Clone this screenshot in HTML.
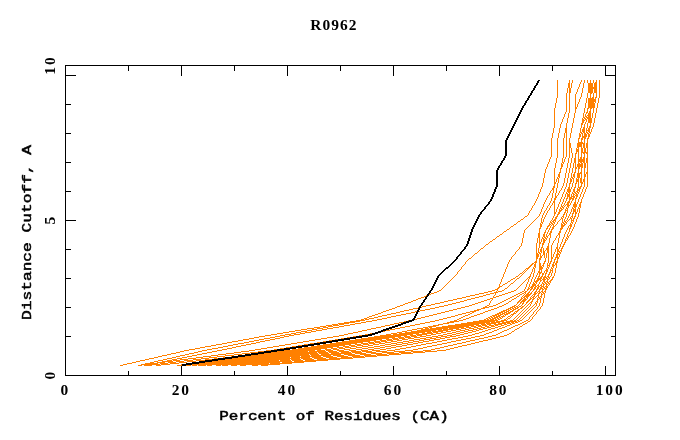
<!DOCTYPE html>
<html><head><meta charset="utf-8"><title>R0962</title>
<style>html,body{margin:0;padding:0;background:#fff}svg{display:block;will-change:transform}text{font-family:"Liberation Mono","DejaVu Sans Mono",monospace;font-weight:normal;font-size:13.7px;fill:#000;stroke:#000;stroke-width:0.5px}text.d{font-family:"Liberation Serif","DejaVu Serif",serif;font-weight:bold;font-size:13.8px;stroke:none}</style></head>
<body>
<svg width="680" height="440" viewBox="0 0 680 440">
<rect width="680" height="440" fill="#fff"/>
<g shape-rendering="crispEdges">
<path id="models" fill="#ff8000" d="M557 80h1v1h-1zM569 80h1v1h-1zM572 80h1v1h-1zM581 80h1v1h-1zM584 80h1v1h-1zM587 80h1v1h-1zM590 80h1v1h-1zM593 80h1v1h-1zM596 80h1v1h-1zM599 80h1v1h-1zM557 81h1v1h-1zM569 81h1v1h-1zM572 81h1v1h-1zM581 81h1v1h-1zM584 81h1v1h-1zM587 81h1v1h-1zM590 81h1v1h-1zM593 81h1v1h-1zM596 81h1v1h-1zM599 81h1v1h-1zM557 82h1v1h-1zM569 82h1v1h-1zM572 82h1v1h-1zM580 82h1v1h-1zM584 82h1v1h-1zM587 82h1v1h-1zM590 82h1v1h-1zM593 82h1v1h-1zM595 82h2v1h-2zM599 82h1v1h-1zM557 83h1v1h-1zM568 83h2v1h-2zM571 83h1v1h-1zM580 83h1v1h-1zM583 83h1v1h-1zM588 83h5v1h-5zM594 83h3v1h-3zM599 83h1v1h-1zM557 84h1v1h-1zM568 84h2v1h-2zM571 84h1v1h-1zM579 84h1v1h-1zM583 84h1v1h-1zM588 84h5v1h-5zM594 84h3v1h-3zM599 84h1v1h-1zM557 85h1v1h-1zM568 85h2v1h-2zM571 85h1v1h-1zM579 85h1v1h-1zM583 85h1v1h-1zM588 85h5v1h-5zM594 85h3v1h-3zM599 85h1v1h-1zM557 86h1v1h-1zM568 86h2v1h-2zM571 86h1v1h-1zM579 86h1v1h-1zM583 86h1v1h-1zM588 86h5v1h-5zM594 86h3v1h-3zM599 86h1v1h-1zM557 87h1v1h-1zM568 87h2v1h-2zM571 87h1v1h-1zM578 87h1v1h-1zM583 87h1v1h-1zM588 87h9v1h-9zM599 87h1v1h-1zM557 88h1v1h-1zM567 88h1v1h-1zM569 88h2v1h-2zM578 88h1v1h-1zM582 88h1v1h-1zM588 88h9v1h-9zM599 88h1v1h-1zM557 89h1v1h-1zM567 89h1v1h-1zM569 89h2v1h-2zM577 89h1v1h-1zM582 89h1v1h-1zM588 89h5v1h-5zM594 89h3v1h-3zM599 89h1v1h-1zM557 90h1v1h-1zM567 90h1v1h-1zM569 90h2v1h-2zM577 90h1v1h-1zM582 90h1v1h-1zM588 90h5v1h-5zM594 90h3v1h-3zM599 90h1v1h-1zM557 91h1v1h-1zM567 91h1v1h-1zM569 91h2v1h-2zM577 91h1v1h-1zM582 91h1v1h-1zM588 91h5v1h-5zM594 91h3v1h-3zM599 91h1v1h-1zM557 92h1v1h-1zM567 92h1v1h-1zM569 92h2v1h-2zM576 92h1v1h-1zM582 92h1v1h-1zM588 92h5v1h-5zM594 92h3v1h-3zM599 92h1v1h-1zM557 93h1v1h-1zM566 93h1v1h-1zM569 93h1v1h-1zM576 93h1v1h-1zM581 93h1v1h-1zM587 93h1v1h-1zM590 93h2v1h-2zM593 93h1v1h-1zM596 93h1v1h-1zM599 93h1v1h-1zM557 94h1v1h-1zM566 94h1v1h-1zM569 94h1v1h-1zM575 94h1v1h-1zM581 94h1v1h-1zM587 94h1v1h-1zM590 94h1v1h-1zM593 94h1v1h-1zM596 94h1v1h-1zM599 94h1v1h-1zM557 95h1v1h-1zM566 95h1v1h-1zM569 95h1v1h-1zM575 95h1v1h-1zM581 95h1v1h-1zM587 95h1v1h-1zM590 95h1v1h-1zM593 95h1v1h-1zM596 95h1v1h-1zM599 95h1v1h-1zM557 96h1v1h-1zM566 96h1v1h-1zM569 96h1v1h-1zM575 96h1v1h-1zM581 96h1v1h-1zM587 96h1v1h-1zM590 96h1v1h-1zM593 96h1v1h-1zM596 96h1v1h-1zM599 96h1v1h-1zM557 97h1v1h-1zM566 97h1v1h-1zM569 97h1v1h-1zM575 97h1v1h-1zM580 97h1v1h-1zM587 97h1v1h-1zM590 97h1v1h-1zM592 97h2v1h-2zM595 97h2v1h-2zM599 97h1v1h-1zM556 98h1v1h-1zM566 98h1v1h-1zM569 98h1v1h-1zM575 98h1v1h-1zM580 98h1v1h-1zM586 98h1v1h-1zM588 98h6v1h-6zM595 98h1v1h-1zM598 98h1v1h-1zM556 99h1v1h-1zM566 99h1v1h-1zM569 99h1v1h-1zM575 99h1v1h-1zM579 99h1v1h-1zM586 99h1v1h-1zM588 99h8v1h-8zM598 99h1v1h-1zM556 100h1v1h-1zM566 100h1v1h-1zM569 100h1v1h-1zM575 100h1v1h-1zM579 100h1v1h-1zM586 100h1v1h-1zM588 100h8v1h-8zM598 100h1v1h-1zM556 101h1v1h-1zM566 101h1v1h-1zM569 101h1v1h-1zM575 101h1v1h-1zM579 101h1v1h-1zM586 101h1v1h-1zM588 101h8v1h-8zM598 101h1v1h-1zM556 102h1v1h-1zM566 102h1v1h-1zM569 102h1v1h-1zM575 102h1v1h-1zM578 102h1v1h-1zM586 102h1v1h-1zM588 102h6v1h-6zM595 102h1v1h-1zM598 102h1v1h-1zM555 103h1v1h-1zM566 103h1v1h-1zM569 103h1v1h-1zM575 103h1v1h-1zM578 103h1v1h-1zM585 103h1v1h-1zM588 103h7v1h-7zM597 103h1v1h-1zM555 104h1v1h-1zM566 104h1v1h-1zM569 104h1v1h-1zM575 104h1v1h-1zM577 104h1v1h-1zM585 104h1v1h-1zM588 104h7v1h-7zM597 104h1v1h-1zM555 105h1v1h-1zM566 105h1v1h-1zM569 105h1v1h-1zM575 105h1v1h-1zM577 105h1v1h-1zM585 105h1v1h-1zM588 105h7v1h-7zM597 105h1v1h-1zM555 106h1v1h-1zM566 106h1v1h-1zM569 106h1v1h-1zM575 106h1v1h-1zM577 106h1v1h-1zM585 106h1v1h-1zM588 106h7v1h-7zM597 106h1v1h-1zM555 107h1v1h-1zM566 107h1v1h-1zM569 107h1v1h-1zM575 107h2v1h-2zM585 107h1v1h-1zM588 107h7v1h-7zM597 107h1v1h-1zM554 108h1v1h-1zM566 108h1v1h-1zM569 108h1v1h-1zM575 108h2v1h-2zM584 108h1v1h-1zM587 108h2v1h-2zM590 108h2v1h-2zM593 108h1v1h-1zM596 108h1v1h-1zM554 109h1v1h-1zM566 109h1v1h-1zM569 109h1v1h-1zM575 109h1v1h-1zM584 109h1v1h-1zM587 109h1v1h-1zM590 109h1v1h-1zM593 109h1v1h-1zM596 109h1v1h-1zM554 110h1v1h-1zM566 110h1v1h-1zM569 110h1v1h-1zM575 110h1v1h-1zM584 110h1v1h-1zM587 110h1v1h-1zM590 110h1v1h-1zM593 110h1v1h-1zM596 110h1v1h-1zM554 111h1v1h-1zM566 111h1v1h-1zM569 111h1v1h-1zM575 111h1v1h-1zM584 111h1v1h-1zM587 111h1v1h-1zM589 111h2v1h-2zM593 111h1v1h-1zM596 111h1v1h-1zM554 112h1v1h-1zM565 112h1v1h-1zM569 112h1v1h-1zM575 112h1v1h-1zM584 112h1v1h-1zM586 112h2v1h-2zM589 112h2v1h-2zM593 112h1v1h-1zM596 112h1v1h-1zM554 113h1v1h-1zM565 113h1v1h-1zM568 113h1v1h-1zM574 113h1v1h-1zM583 113h1v1h-1zM586 113h1v1h-1zM588 113h3v1h-3zM592 113h1v1h-1zM595 113h1v1h-1zM554 114h1v1h-1zM564 114h1v1h-1zM568 114h1v1h-1zM574 114h1v1h-1zM583 114h1v1h-1zM585 114h1v1h-1zM588 114h3v1h-3zM592 114h1v1h-1zM595 114h1v1h-1zM554 115h1v1h-1zM564 115h1v1h-1zM568 115h1v1h-1zM574 115h1v1h-1zM583 115h1v1h-1zM585 115h1v1h-1zM587 115h4v1h-4zM592 115h1v1h-1zM595 115h1v1h-1zM554 116h1v1h-1zM564 116h1v1h-1zM568 116h1v1h-1zM574 116h1v1h-1zM583 116h1v1h-1zM585 116h2v1h-2zM588 116h3v1h-3zM592 116h1v1h-1zM595 116h1v1h-1zM554 117h1v1h-1zM563 117h1v1h-1zM568 117h1v1h-1zM574 117h1v1h-1zM583 117h2v1h-2zM586 117h5v1h-5zM592 117h1v1h-1zM595 117h1v1h-1zM554 118h1v1h-1zM563 118h1v1h-1zM567 118h1v1h-1zM573 118h1v1h-1zM582 118h1v1h-1zM584 118h2v1h-2zM587 118h5v1h-5zM594 118h1v1h-1zM554 119h1v1h-1zM562 119h1v1h-1zM567 119h1v1h-1zM573 119h1v1h-1zM582 119h2v1h-2zM585 119h2v1h-2zM588 119h4v1h-4zM594 119h1v1h-1zM554 120h1v1h-1zM562 120h1v1h-1zM567 120h1v1h-1zM573 120h1v1h-1zM582 120h3v1h-3zM586 120h1v1h-1zM588 120h4v1h-4zM594 120h1v1h-1zM554 121h1v1h-1zM562 121h1v1h-1zM567 121h1v1h-1zM573 121h1v1h-1zM582 121h2v1h-2zM586 121h1v1h-1zM588 121h4v1h-4zM594 121h1v1h-1zM554 122h1v1h-1zM561 122h1v1h-1zM567 122h1v1h-1zM573 122h1v1h-1zM582 122h2v1h-2zM585 122h1v1h-1zM588 122h4v1h-4zM594 122h1v1h-1zM554 123h1v1h-1zM561 123h1v1h-1zM566 123h1v1h-1zM572 123h1v1h-1zM581 123h2v1h-2zM585 123h1v1h-1zM587 123h1v1h-1zM590 123h1v1h-1zM593 123h1v1h-1zM554 124h1v1h-1zM560 124h1v1h-1zM566 124h1v1h-1zM572 124h1v1h-1zM581 124h2v1h-2zM584 124h1v1h-1zM587 124h1v1h-1zM590 124h1v1h-1zM593 124h1v1h-1zM554 125h1v1h-1zM560 125h1v1h-1zM566 125h1v1h-1zM572 125h1v1h-1zM581 125h1v1h-1zM584 125h1v1h-1zM587 125h1v1h-1zM590 125h1v1h-1zM593 125h1v1h-1zM554 126h1v1h-1zM560 126h1v1h-1zM566 126h1v1h-1zM572 126h1v1h-1zM581 126h1v1h-1zM584 126h1v1h-1zM587 126h1v1h-1zM589 126h2v1h-2zM593 126h1v1h-1zM554 127h1v1h-1zM560 127h1v1h-1zM566 127h1v1h-1zM572 127h1v1h-1zM581 127h1v1h-1zM583 127h2v1h-2zM587 127h1v1h-1zM589 127h2v1h-2zM592 127h1v1h-1zM553 128h1v1h-1zM559 128h1v1h-1zM565 128h2v1h-2zM571 128h1v1h-1zM580 128h1v1h-1zM583 128h2v1h-2zM586 128h1v1h-1zM588 128h2v1h-2zM592 128h1v1h-1zM553 129h1v1h-1zM559 129h1v1h-1zM565 129h2v1h-2zM571 129h1v1h-1zM580 129h1v1h-1zM582 129h3v1h-3zM586 129h1v1h-1zM588 129h2v1h-2zM591 129h1v1h-1zM553 130h1v1h-1zM559 130h1v1h-1zM565 130h2v1h-2zM571 130h1v1h-1zM580 130h1v1h-1zM582 130h3v1h-3zM586 130h4v1h-4zM591 130h1v1h-1zM553 131h1v1h-1zM559 131h1v1h-1zM565 131h2v1h-2zM571 131h1v1h-1zM580 131h1v1h-1zM582 131h3v1h-3zM586 131h1v1h-1zM588 131h2v1h-2zM591 131h1v1h-1zM553 132h1v1h-1zM559 132h1v1h-1zM565 132h2v1h-2zM571 132h1v1h-1zM580 132h2v1h-2zM583 132h2v1h-2zM586 132h2v1h-2zM589 132h2v1h-2zM552 133h1v1h-1zM558 133h1v1h-1zM564 133h1v1h-1zM566 133h1v1h-1zM570 133h1v1h-1zM579 133h1v1h-1zM581 133h2v1h-2zM584 133h2v1h-2zM587 133h2v1h-2zM590 133h1v1h-1zM552 134h1v1h-1zM558 134h1v1h-1zM564 134h1v1h-1zM566 134h1v1h-1zM570 134h1v1h-1zM579 134h2v1h-2zM582 134h1v1h-1zM584 134h3v1h-3zM588 134h2v1h-2zM552 135h1v1h-1zM558 135h1v1h-1zM564 135h1v1h-1zM566 135h1v1h-1zM570 135h1v1h-1zM579 135h2v1h-2zM582 135h1v1h-1zM584 135h3v1h-3zM588 135h2v1h-2zM552 136h1v1h-1zM558 136h1v1h-1zM564 136h1v1h-1zM566 136h1v1h-1zM570 136h1v1h-1zM579 136h2v1h-2zM582 136h5v1h-5zM588 136h2v1h-2zM552 137h1v1h-1zM558 137h1v1h-1zM564 137h1v1h-1zM566 137h1v1h-1zM570 137h1v1h-1zM579 137h1v1h-1zM582 137h4v1h-4zM588 137h1v1h-1zM551 138h1v1h-1zM557 138h1v1h-1zM563 138h1v1h-1zM566 138h1v1h-1zM569 138h1v1h-1zM578 138h2v1h-2zM581 138h2v1h-2zM584 138h2v1h-2zM587 138h2v1h-2zM551 139h1v1h-1zM557 139h1v1h-1zM563 139h1v1h-1zM566 139h1v1h-1zM569 139h1v1h-1zM578 139h1v1h-1zM581 139h2v1h-2zM584 139h1v1h-1zM587 139h1v1h-1zM551 140h1v1h-1zM557 140h1v1h-1zM563 140h1v1h-1zM566 140h1v1h-1zM569 140h1v1h-1zM578 140h1v1h-1zM581 140h1v1h-1zM584 140h1v1h-1zM587 140h1v1h-1zM551 141h1v1h-1zM557 141h1v1h-1zM563 141h1v1h-1zM566 141h1v1h-1zM569 141h1v1h-1zM578 141h1v1h-1zM581 141h1v1h-1zM584 141h1v1h-1zM587 141h1v1h-1zM551 142h1v1h-1zM557 142h1v1h-1zM563 142h1v1h-1zM566 142h1v1h-1zM569 142h1v1h-1zM578 142h5v1h-5zM584 142h1v1h-1zM587 142h1v1h-1zM551 143h1v1h-1zM557 143h1v1h-1zM563 143h1v1h-1zM566 143h1v1h-1zM569 143h2v1h-2zM577 143h8v1h-8zM586 143h2v1h-2zM551 144h1v1h-1zM557 144h1v1h-1zM563 144h1v1h-1zM566 144h1v1h-1zM569 144h2v1h-2zM577 144h5v1h-5zM583 144h2v1h-2zM586 144h2v1h-2zM551 145h1v1h-1zM557 145h1v1h-1zM563 145h1v1h-1zM566 145h1v1h-1zM569 145h2v1h-2zM577 145h5v1h-5zM583 145h2v1h-2zM586 145h2v1h-2zM551 146h1v1h-1zM557 146h1v1h-1zM563 146h1v1h-1zM566 146h1v1h-1zM569 146h2v1h-2zM577 146h5v1h-5zM583 146h2v1h-2zM586 146h2v1h-2zM551 147h1v1h-1zM557 147h1v1h-1zM563 147h1v1h-1zM566 147h1v1h-1zM569 147h2v1h-2zM577 147h2v1h-2zM581 147h1v1h-1zM583 147h2v1h-2zM586 147h2v1h-2zM551 148h1v1h-1zM557 148h1v1h-1zM563 148h1v1h-1zM566 148h1v1h-1zM569 148h1v1h-1zM571 148h1v1h-1zM576 148h1v1h-1zM578 148h1v1h-1zM581 148h2v1h-2zM584 148h2v1h-2zM587 148h1v1h-1zM551 149h1v1h-1zM557 149h1v1h-1zM563 149h1v1h-1zM566 149h1v1h-1zM569 149h1v1h-1zM571 149h1v1h-1zM576 149h3v1h-3zM581 149h2v1h-2zM584 149h2v1h-2zM587 149h1v1h-1zM551 150h1v1h-1zM557 150h1v1h-1zM563 150h1v1h-1zM566 150h1v1h-1zM569 150h1v1h-1zM571 150h1v1h-1zM576 150h3v1h-3zM581 150h2v1h-2zM584 150h2v1h-2zM587 150h1v1h-1zM551 151h1v1h-1zM557 151h1v1h-1zM563 151h1v1h-1zM566 151h1v1h-1zM569 151h1v1h-1zM571 151h1v1h-1zM576 151h3v1h-3zM581 151h2v1h-2zM584 151h2v1h-2zM587 151h1v1h-1zM551 152h1v1h-1zM557 152h1v1h-1zM563 152h1v1h-1zM566 152h1v1h-1zM569 152h1v1h-1zM571 152h1v1h-1zM576 152h1v1h-1zM578 152h1v1h-1zM581 152h7v1h-7zM551 153h1v1h-1zM557 153h1v1h-1zM563 153h1v1h-1zM566 153h1v1h-1zM569 153h1v1h-1zM572 153h1v1h-1zM575 153h2v1h-2zM578 153h1v1h-1zM581 153h1v1h-1zM583 153h2v1h-2zM586 153h2v1h-2zM551 154h1v1h-1zM557 154h1v1h-1zM563 154h1v1h-1zM566 154h1v1h-1zM569 154h1v1h-1zM572 154h1v1h-1zM575 154h1v1h-1zM578 154h1v1h-1zM581 154h1v1h-1zM584 154h1v1h-1zM587 154h1v1h-1zM551 155h1v1h-1zM557 155h1v1h-1zM563 155h1v1h-1zM566 155h1v1h-1zM569 155h1v1h-1zM572 155h1v1h-1zM575 155h1v1h-1zM578 155h1v1h-1zM581 155h1v1h-1zM584 155h1v1h-1zM587 155h1v1h-1zM551 156h1v1h-1zM557 156h1v1h-1zM563 156h1v1h-1zM566 156h1v1h-1zM569 156h1v1h-1zM572 156h1v1h-1zM575 156h1v1h-1zM578 156h1v1h-1zM581 156h1v1h-1zM584 156h1v1h-1zM587 156h1v1h-1zM550 157h1v1h-1zM557 157h1v1h-1zM563 157h1v1h-1zM565 157h1v1h-1zM569 157h1v1h-1zM572 157h1v1h-1zM575 157h1v1h-1zM578 157h1v1h-1zM580 157h2v1h-2zM583 157h2v1h-2zM587 157h1v1h-1zM550 158h1v1h-1zM556 158h1v1h-1zM562 158h1v1h-1zM565 158h1v1h-1zM568 158h1v1h-1zM571 158h1v1h-1zM574 158h2v1h-2zM578 158h1v1h-1zM580 158h2v1h-2zM583 158h2v1h-2zM586 158h2v1h-2zM549 159h1v1h-1zM556 159h1v1h-1zM562 159h1v1h-1zM564 159h1v1h-1zM568 159h1v1h-1zM571 159h1v1h-1zM574 159h2v1h-2zM578 159h7v1h-7zM586 159h2v1h-2zM549 160h1v1h-1zM556 160h1v1h-1zM562 160h1v1h-1zM564 160h1v1h-1zM568 160h1v1h-1zM571 160h1v1h-1zM574 160h2v1h-2zM578 160h7v1h-7zM586 160h2v1h-2zM549 161h1v1h-1zM556 161h1v1h-1zM562 161h1v1h-1zM564 161h1v1h-1zM568 161h1v1h-1zM571 161h1v1h-1zM574 161h2v1h-2zM578 161h7v1h-7zM586 161h2v1h-2zM548 162h1v1h-1zM556 162h1v1h-1zM562 162h2v1h-2zM568 162h1v1h-1zM571 162h1v1h-1zM574 162h2v1h-2zM578 162h1v1h-1zM580 162h2v1h-2zM583 162h2v1h-2zM586 162h2v1h-2zM548 163h1v1h-1zM555 163h1v1h-1zM561 163h1v1h-1zM563 163h1v1h-1zM567 163h1v1h-1zM570 163h1v1h-1zM573 163h1v1h-1zM575 163h1v1h-1zM578 163h2v1h-2zM581 163h2v1h-2zM584 163h2v1h-2zM587 163h1v1h-1zM547 164h1v1h-1zM555 164h1v1h-1zM561 164h2v1h-2zM567 164h1v1h-1zM570 164h1v1h-1zM573 164h1v1h-1zM575 164h1v1h-1zM577 164h6v1h-6zM584 164h2v1h-2zM587 164h1v1h-1zM547 165h1v1h-1zM555 165h1v1h-1zM561 165h2v1h-2zM567 165h1v1h-1zM570 165h1v1h-1zM573 165h1v1h-1zM575 165h1v1h-1zM577 165h6v1h-6zM584 165h2v1h-2zM587 165h1v1h-1zM547 166h1v1h-1zM555 166h1v1h-1zM561 166h2v1h-2zM567 166h1v1h-1zM570 166h1v1h-1zM573 166h1v1h-1zM575 166h1v1h-1zM577 166h6v1h-6zM584 166h2v1h-2zM587 166h1v1h-1zM546 167h1v1h-1zM555 167h1v1h-1zM561 167h1v1h-1zM567 167h1v1h-1zM570 167h1v1h-1zM573 167h1v1h-1zM575 167h2v1h-2zM578 167h2v1h-2zM581 167h2v1h-2zM584 167h2v1h-2zM587 167h1v1h-1zM546 168h1v1h-1zM554 168h1v1h-1zM560 168h2v1h-2zM566 168h1v1h-1zM569 168h1v1h-1zM572 168h1v1h-1zM575 168h2v1h-2zM578 168h2v1h-2zM581 168h1v1h-1zM584 168h1v1h-1zM587 168h1v1h-1zM545 169h1v1h-1zM554 169h1v1h-1zM560 169h1v1h-1zM566 169h1v1h-1zM569 169h1v1h-1zM572 169h1v1h-1zM575 169h1v1h-1zM578 169h1v1h-1zM581 169h1v1h-1zM584 169h1v1h-1zM587 169h1v1h-1zM545 170h1v1h-1zM554 170h1v1h-1zM560 170h1v1h-1zM566 170h1v1h-1zM569 170h1v1h-1zM572 170h1v1h-1zM575 170h1v1h-1zM578 170h1v1h-1zM581 170h1v1h-1zM584 170h1v1h-1zM587 170h1v1h-1zM545 171h1v1h-1zM554 171h1v1h-1zM560 171h1v1h-1zM566 171h1v1h-1zM569 171h1v1h-1zM572 171h1v1h-1zM575 171h1v1h-1zM578 171h1v1h-1zM581 171h1v1h-1zM584 171h1v1h-1zM587 171h1v1h-1zM545 172h1v1h-1zM554 172h1v1h-1zM559 172h2v1h-2zM566 172h1v1h-1zM569 172h1v1h-1zM572 172h1v1h-1zM574 172h2v1h-2zM578 172h1v1h-1zM580 172h2v1h-2zM584 172h1v1h-1zM586 172h2v1h-2zM544 173h1v1h-1zM554 173h1v1h-1zM559 173h1v1h-1zM565 173h1v1h-1zM568 173h1v1h-1zM571 173h1v1h-1zM574 173h1v1h-1zM577 173h5v1h-5zM584 173h1v1h-1zM586 173h2v1h-2zM544 174h1v1h-1zM554 174h1v1h-1zM558 174h2v1h-2zM565 174h1v1h-1zM568 174h1v1h-1zM571 174h1v1h-1zM573 174h2v1h-2zM577 174h3v1h-3zM581 174h1v1h-1zM584 174h2v1h-2zM587 174h1v1h-1zM544 175h1v1h-1zM554 175h1v1h-1zM558 175h2v1h-2zM565 175h1v1h-1zM568 175h1v1h-1zM571 175h1v1h-1zM573 175h2v1h-2zM577 175h3v1h-3zM581 175h1v1h-1zM584 175h2v1h-2zM587 175h1v1h-1zM544 176h1v1h-1zM554 176h1v1h-1zM558 176h2v1h-2zM565 176h1v1h-1zM568 176h1v1h-1zM571 176h1v1h-1zM573 176h2v1h-2zM577 176h3v1h-3zM581 176h1v1h-1zM584 176h2v1h-2zM587 176h1v1h-1zM544 177h1v1h-1zM554 177h1v1h-1zM557 177h1v1h-1zM559 177h1v1h-1zM565 177h1v1h-1zM568 177h1v1h-1zM571 177h2v1h-2zM574 177h1v1h-1zM577 177h3v1h-3zM581 177h1v1h-1zM584 177h1v1h-1zM587 177h1v1h-1zM543 178h1v1h-1zM554 178h1v1h-1zM557 178h2v1h-2zM564 178h1v1h-1zM567 178h1v1h-1zM570 178h1v1h-1zM572 178h2v1h-2zM576 178h1v1h-1zM578 178h1v1h-1zM580 178h2v1h-2zM584 178h1v1h-1zM587 178h1v1h-1zM543 179h1v1h-1zM554 179h1v1h-1zM556 179h1v1h-1zM558 179h1v1h-1zM564 179h1v1h-1zM567 179h1v1h-1zM570 179h2v1h-2zM573 179h1v1h-1zM576 179h3v1h-3zM580 179h2v1h-2zM583 179h2v1h-2zM587 179h1v1h-1zM543 180h1v1h-1zM554 180h1v1h-1zM556 180h1v1h-1zM558 180h1v1h-1zM564 180h1v1h-1zM567 180h1v1h-1zM570 180h2v1h-2zM573 180h1v1h-1zM576 180h3v1h-3zM580 180h2v1h-2zM583 180h2v1h-2zM587 180h1v1h-1zM543 181h1v1h-1zM554 181h1v1h-1zM556 181h1v1h-1zM558 181h1v1h-1zM564 181h1v1h-1zM567 181h1v1h-1zM570 181h2v1h-2zM573 181h1v1h-1zM576 181h3v1h-3zM580 181h2v1h-2zM583 181h2v1h-2zM587 181h1v1h-1zM543 182h1v1h-1zM554 182h2v1h-2zM558 182h1v1h-1zM564 182h1v1h-1zM567 182h1v1h-1zM570 182h1v1h-1zM573 182h1v1h-1zM576 182h1v1h-1zM578 182h1v1h-1zM580 182h3v1h-3zM584 182h1v1h-1zM587 182h1v1h-1zM542 183h1v1h-1zM554 183h2v1h-2zM557 183h1v1h-1zM563 183h1v1h-1zM566 183h1v1h-1zM569 183h2v1h-2zM572 183h1v1h-1zM575 183h2v1h-2zM578 183h1v1h-1zM581 183h2v1h-2zM584 183h1v1h-1zM587 183h1v1h-1zM542 184h1v1h-1zM554 184h1v1h-1zM557 184h1v1h-1zM563 184h1v1h-1zM566 184h1v1h-1zM569 184h1v1h-1zM572 184h1v1h-1zM575 184h1v1h-1zM578 184h1v1h-1zM581 184h1v1h-1zM584 184h1v1h-1zM587 184h1v1h-1zM542 185h1v1h-1zM554 185h1v1h-1zM557 185h1v1h-1zM563 185h1v1h-1zM566 185h1v1h-1zM569 185h1v1h-1zM572 185h1v1h-1zM575 185h1v1h-1zM578 185h1v1h-1zM581 185h1v1h-1zM584 185h1v1h-1zM587 185h1v1h-1zM542 186h1v1h-1zM553 186h2v1h-2zM557 186h1v1h-1zM562 186h1v1h-1zM566 186h1v1h-1zM569 186h1v1h-1zM572 186h1v1h-1zM575 186h1v1h-1zM578 186h1v1h-1zM580 186h2v1h-2zM584 186h1v1h-1zM587 186h1v1h-1zM541 187h1v1h-1zM553 187h2v1h-2zM557 187h1v1h-1zM562 187h1v1h-1zM565 187h1v1h-1zM568 187h2v1h-2zM571 187h1v1h-1zM574 187h2v1h-2zM578 187h3v1h-3zM583 187h1v1h-1zM586 187h1v1h-1zM541 188h1v1h-1zM552 188h2v1h-2zM556 188h1v1h-1zM561 188h1v1h-1zM565 188h1v1h-1zM568 188h2v1h-2zM571 188h1v1h-1zM574 188h1v1h-1zM577 188h1v1h-1zM579 188h2v1h-2zM583 188h1v1h-1zM586 188h1v1h-1zM540 189h1v1h-1zM552 189h2v1h-2zM556 189h1v1h-1zM561 189h1v1h-1zM564 189h1v1h-1zM567 189h4v1h-4zM573 189h2v1h-2zM577 189h3v1h-3zM582 189h1v1h-1zM585 189h1v1h-1zM540 190h1v1h-1zM551 190h1v1h-1zM553 190h1v1h-1zM556 190h1v1h-1zM560 190h1v1h-1zM564 190h1v1h-1zM567 190h4v1h-4zM573 190h2v1h-2zM577 190h3v1h-3zM582 190h1v1h-1zM585 190h1v1h-1zM540 191h1v1h-1zM550 191h1v1h-1zM553 191h1v1h-1zM556 191h1v1h-1zM559 191h1v1h-1zM564 191h1v1h-1zM567 191h4v1h-4zM573 191h2v1h-2zM576 191h2v1h-2zM579 191h1v1h-1zM582 191h1v1h-1zM585 191h1v1h-1zM539 192h1v1h-1zM550 192h1v1h-1zM553 192h1v1h-1zM556 192h1v1h-1zM559 192h1v1h-1zM563 192h1v1h-1zM566 192h1v1h-1zM568 192h2v1h-2zM572 192h1v1h-1zM574 192h2v1h-2zM577 192h2v1h-2zM581 192h1v1h-1zM584 192h1v1h-1zM539 193h1v1h-1zM549 193h1v1h-1zM552 193h1v1h-1zM555 193h1v1h-1zM558 193h1v1h-1zM563 193h1v1h-1zM566 193h2v1h-2zM569 193h1v1h-1zM572 193h2v1h-2zM575 193h2v1h-2zM578 193h1v1h-1zM581 193h1v1h-1zM584 193h1v1h-1zM538 194h1v1h-1zM549 194h1v1h-1zM552 194h1v1h-1zM555 194h1v1h-1zM558 194h1v1h-1zM562 194h1v1h-1zM565 194h1v1h-1zM567 194h3v1h-3zM571 194h1v1h-1zM573 194h2v1h-2zM576 194h2v1h-2zM580 194h1v1h-1zM583 194h1v1h-1zM538 195h1v1h-1zM548 195h1v1h-1zM552 195h1v1h-1zM555 195h1v1h-1zM557 195h1v1h-1zM562 195h1v1h-1zM565 195h1v1h-1zM567 195h3v1h-3zM571 195h1v1h-1zM573 195h1v1h-1zM575 195h3v1h-3zM580 195h1v1h-1zM583 195h1v1h-1zM538 196h1v1h-1zM547 196h1v1h-1zM552 196h1v1h-1zM555 196h2v1h-2zM562 196h1v1h-1zM565 196h1v1h-1zM567 196h3v1h-3zM571 196h4v1h-4zM576 196h2v1h-2zM580 196h1v1h-1zM583 196h1v1h-1zM537 197h1v1h-1zM547 197h1v1h-1zM552 197h1v1h-1zM555 197h2v1h-2zM561 197h1v1h-1zM564 197h1v1h-1zM567 197h1v1h-1zM569 197h3v1h-3zM573 197h2v1h-2zM576 197h1v1h-1zM579 197h1v1h-1zM582 197h1v1h-1zM537 198h1v1h-1zM546 198h1v1h-1zM551 198h1v1h-1zM554 198h2v1h-2zM561 198h1v1h-1zM564 198h1v1h-1zM566 198h2v1h-2zM569 198h5v1h-5zM575 198h2v1h-2zM579 198h1v1h-1zM582 198h1v1h-1zM536 199h1v1h-1zM546 199h1v1h-1zM551 199h1v1h-1zM554 199h2v1h-2zM560 199h1v1h-1zM563 199h1v1h-1zM566 199h1v1h-1zM569 199h2v1h-2zM572 199h2v1h-2zM575 199h1v1h-1zM578 199h1v1h-1zM581 199h1v1h-1zM536 200h1v1h-1zM545 200h1v1h-1zM551 200h1v1h-1zM554 200h1v1h-1zM560 200h1v1h-1zM563 200h1v1h-1zM566 200h1v1h-1zM569 200h1v1h-1zM572 200h1v1h-1zM575 200h1v1h-1zM578 200h1v1h-1zM581 200h1v1h-1zM535 201h1v1h-1zM545 201h1v1h-1zM550 201h1v1h-1zM553 201h2v1h-2zM560 201h1v1h-1zM563 201h1v1h-1zM565 201h1v1h-1zM568 201h2v1h-2zM571 201h1v1h-1zM575 201h1v1h-1zM578 201h1v1h-1zM581 201h1v1h-1zM535 202h1v1h-1zM544 202h1v1h-1zM550 202h1v1h-1zM553 202h2v1h-2zM559 202h1v1h-1zM562 202h1v1h-1zM565 202h1v1h-1zM567 202h3v1h-3zM571 202h1v1h-1zM574 202h2v1h-2zM577 202h1v1h-1zM580 202h2v1h-2zM534 203h1v1h-1zM544 203h1v1h-1zM549 203h1v1h-1zM552 203h1v1h-1zM554 203h1v1h-1zM559 203h1v1h-1zM562 203h1v1h-1zM564 203h1v1h-1zM567 203h2v1h-2zM570 203h1v1h-1zM574 203h2v1h-2zM577 203h1v1h-1zM580 203h1v1h-1zM534 204h1v1h-1zM543 204h1v1h-1zM549 204h1v1h-1zM552 204h1v1h-1zM554 204h1v1h-1zM558 204h1v1h-1zM561 204h1v1h-1zM564 204h1v1h-1zM566 204h3v1h-3zM570 204h1v1h-1zM573 204h4v1h-4zM579 204h2v1h-2zM533 205h1v1h-1zM543 205h1v1h-1zM548 205h1v1h-1zM551 205h1v1h-1zM554 205h1v1h-1zM558 205h1v1h-1zM561 205h1v1h-1zM563 205h1v1h-1zM565 205h1v1h-1zM567 205h3v1h-3zM573 205h4v1h-4zM579 205h2v1h-2zM532 206h1v1h-1zM543 206h1v1h-1zM547 206h1v1h-1zM550 206h1v1h-1zM554 206h1v1h-1zM558 206h1v1h-1zM561 206h2v1h-2zM564 206h1v1h-1zM567 206h2v1h-2zM573 206h4v1h-4zM579 206h2v1h-2zM532 207h1v1h-1zM542 207h1v1h-1zM547 207h1v1h-1zM550 207h1v1h-1zM554 207h1v1h-1zM557 207h1v1h-1zM560 207h1v1h-1zM562 207h2v1h-2zM566 207h1v1h-1zM568 207h1v1h-1zM572 207h1v1h-1zM574 207h2v1h-2zM578 207h1v1h-1zM580 207h1v1h-1zM531 208h1v1h-1zM542 208h1v1h-1zM546 208h1v1h-1zM549 208h1v1h-1zM554 208h1v1h-1zM557 208h1v1h-1zM560 208h2v1h-2zM563 208h1v1h-1zM566 208h2v1h-2zM572 208h2v1h-2zM575 208h1v1h-1zM578 208h2v1h-2zM531 209h1v1h-1zM541 209h1v1h-1zM546 209h1v1h-1zM549 209h1v1h-1zM554 209h1v1h-1zM556 209h1v1h-1zM559 209h1v1h-1zM561 209h2v1h-2zM565 209h1v1h-1zM567 209h1v1h-1zM571 209h1v1h-1zM573 209h3v1h-3zM577 209h1v1h-1zM579 209h1v1h-1zM530 210h1v1h-1zM541 210h1v1h-1zM545 210h1v1h-1zM548 210h1v1h-1zM554 210h1v1h-1zM556 210h1v1h-1zM559 210h3v1h-3zM565 210h3v1h-3zM571 210h1v1h-1zM573 210h3v1h-3zM577 210h1v1h-1zM579 210h1v1h-1zM529 211h1v1h-1zM541 211h1v1h-1zM544 211h1v1h-1zM547 211h1v1h-1zM554 211h1v1h-1zM556 211h1v1h-1zM559 211h2v1h-2zM565 211h1v1h-1zM567 211h1v1h-1zM571 211h1v1h-1zM573 211h3v1h-3zM577 211h1v1h-1zM579 211h1v1h-1zM529 212h1v1h-1zM540 212h1v1h-1zM544 212h1v1h-1zM547 212h1v1h-1zM554 212h2v1h-2zM558 212h2v1h-2zM564 212h2v1h-2zM567 212h1v1h-1zM570 212h1v1h-1zM573 212h1v1h-1zM575 212h2v1h-2zM579 212h1v1h-1zM528 213h1v1h-1zM540 213h1v1h-1zM543 213h1v1h-1zM546 213h1v1h-1zM554 213h2v1h-2zM558 213h2v1h-2zM564 213h1v1h-1zM566 213h1v1h-1zM570 213h1v1h-1zM572 213h2v1h-2zM575 213h2v1h-2zM578 213h1v1h-1zM528 214h1v1h-1zM539 214h1v1h-1zM543 214h1v1h-1zM546 214h1v1h-1zM554 214h1v1h-1zM557 214h2v1h-2zM563 214h2v1h-2zM566 214h1v1h-1zM569 214h1v1h-1zM572 214h1v1h-1zM575 214h1v1h-1zM578 214h1v1h-1zM527 215h1v1h-1zM539 215h1v1h-1zM542 215h1v1h-1zM545 215h1v1h-1zM554 215h1v1h-1zM557 215h1v1h-1zM563 215h1v1h-1zM566 215h1v1h-1zM569 215h1v1h-1zM572 215h1v1h-1zM575 215h1v1h-1zM578 215h1v1h-1zM525 216h2v1h-2zM538 216h1v1h-1zM542 216h1v1h-1zM545 216h1v1h-1zM553 216h1v1h-1zM556 216h2v1h-2zM562 216h2v1h-2zM566 216h1v1h-1zM568 216h1v1h-1zM571 216h2v1h-2zM574 216h2v1h-2zM578 216h1v1h-1zM524 217h1v1h-1zM537 217h1v1h-1zM542 217h1v1h-1zM544 217h1v1h-1zM553 217h1v1h-1zM555 217h2v1h-2zM561 217h1v1h-1zM563 217h1v1h-1zM565 217h1v1h-1zM568 217h1v1h-1zM570 217h1v1h-1zM572 217h1v1h-1zM574 217h1v1h-1zM577 217h1v1h-1zM523 218h1v1h-1zM536 218h1v1h-1zM541 218h1v1h-1zM544 218h1v1h-1zM552 218h1v1h-1zM555 218h2v1h-2zM561 218h2v1h-2zM565 218h1v1h-1zM567 218h1v1h-1zM570 218h2v1h-2zM573 218h2v1h-2zM577 218h1v1h-1zM521 219h2v1h-2zM535 219h1v1h-1zM541 219h1v1h-1zM543 219h1v1h-1zM552 219h1v1h-1zM554 219h2v1h-2zM560 219h1v1h-1zM562 219h1v1h-1zM564 219h1v1h-1zM567 219h1v1h-1zM569 219h1v1h-1zM571 219h1v1h-1zM573 219h1v1h-1zM576 219h1v1h-1zM520 220h1v1h-1zM534 220h1v1h-1zM541 220h1v1h-1zM543 220h1v1h-1zM551 220h1v1h-1zM553 220h3v1h-3zM559 220h1v1h-1zM562 220h1v1h-1zM564 220h1v1h-1zM566 220h1v1h-1zM568 220h1v1h-1zM571 220h3v1h-3zM576 220h1v1h-1zM518 221h2v1h-2zM533 221h1v1h-1zM541 221h1v1h-1zM543 221h1v1h-1zM550 221h1v1h-1zM552 221h2v1h-2zM555 221h1v1h-1zM558 221h1v1h-1zM562 221h1v1h-1zM564 221h2v1h-2zM567 221h1v1h-1zM571 221h1v1h-1zM573 221h1v1h-1zM576 221h1v1h-1zM517 222h1v1h-1zM532 222h1v1h-1zM541 222h2v1h-2zM550 222h2v1h-2zM553 222h2v1h-2zM557 222h1v1h-1zM562 222h2v1h-2zM565 222h2v1h-2zM571 222h2v1h-2zM575 222h1v1h-1zM516 223h1v1h-1zM531 223h1v1h-1zM540 223h1v1h-1zM542 223h1v1h-1zM549 223h1v1h-1zM551 223h2v1h-2zM554 223h1v1h-1zM557 223h1v1h-1zM561 223h1v1h-1zM563 223h2v1h-2zM566 223h1v1h-1zM570 223h1v1h-1zM572 223h1v1h-1zM575 223h1v1h-1zM514 224h2v1h-2zM530 224h1v1h-1zM540 224h2v1h-2zM549 224h2v1h-2zM552 224h2v1h-2zM556 224h1v1h-1zM561 224h2v1h-2zM564 224h2v1h-2zM570 224h2v1h-2zM574 224h1v1h-1zM513 225h1v1h-1zM529 225h1v1h-1zM540 225h2v1h-2zM548 225h2v1h-2zM551 225h1v1h-1zM553 225h1v1h-1zM555 225h1v1h-1zM561 225h4v1h-4zM569 225h3v1h-3zM574 225h1v1h-1zM511 226h2v1h-2zM528 226h1v1h-1zM540 226h2v1h-2zM547 226h2v1h-2zM550 226h1v1h-1zM553 226h2v1h-2zM561 226h3v1h-3zM568 226h1v1h-1zM570 226h2v1h-2zM574 226h1v1h-1zM510 227h1v1h-1zM527 227h1v1h-1zM540 227h1v1h-1zM547 227h1v1h-1zM550 227h1v1h-1zM552 227h2v1h-2zM561 227h2v1h-2zM568 227h1v1h-1zM570 227h1v1h-1zM573 227h1v1h-1zM509 228h1v1h-1zM526 228h1v1h-1zM539 228h2v1h-2zM546 228h2v1h-2zM549 228h1v1h-1zM552 228h2v1h-2zM560 228h3v1h-3zM567 228h1v1h-1zM569 228h2v1h-2zM573 228h1v1h-1zM507 229h2v1h-2zM525 229h1v1h-1zM539 229h1v1h-1zM546 229h1v1h-1zM549 229h1v1h-1zM551 229h2v1h-2zM560 229h2v1h-2zM567 229h1v1h-1zM569 229h1v1h-1zM572 229h1v1h-1zM506 230h1v1h-1zM524 230h1v1h-1zM539 230h1v1h-1zM545 230h1v1h-1zM548 230h1v1h-1zM551 230h1v1h-1zM560 230h1v1h-1zM566 230h1v1h-1zM569 230h1v1h-1zM572 230h1v1h-1zM504 231h2v1h-2zM524 231h1v1h-1zM539 231h1v1h-1zM545 231h1v1h-1zM548 231h1v1h-1zM550 231h2v1h-2zM559 231h2v1h-2zM566 231h1v1h-1zM569 231h1v1h-1zM571 231h1v1h-1zM503 232h1v1h-1zM524 232h1v1h-1zM539 232h1v1h-1zM544 232h2v1h-2zM547 232h1v1h-1zM550 232h2v1h-2zM559 232h2v1h-2zM565 232h1v1h-1zM568 232h1v1h-1zM571 232h1v1h-1zM502 233h1v1h-1zM523 233h1v1h-1zM538 233h2v1h-2zM544 233h1v1h-1zM547 233h1v1h-1zM549 233h2v1h-2zM558 233h2v1h-2zM565 233h1v1h-1zM568 233h1v1h-1zM570 233h1v1h-1zM500 234h2v1h-2zM523 234h1v1h-1zM538 234h2v1h-2zM543 234h2v1h-2zM546 234h1v1h-1zM549 234h2v1h-2zM558 234h2v1h-2zM564 234h1v1h-1zM567 234h1v1h-1zM570 234h1v1h-1zM499 235h1v1h-1zM523 235h1v1h-1zM538 235h2v1h-2zM543 235h2v1h-2zM546 235h1v1h-1zM548 235h1v1h-1zM550 235h1v1h-1zM557 235h1v1h-1zM559 235h1v1h-1zM564 235h1v1h-1zM567 235h1v1h-1zM569 235h1v1h-1zM497 236h2v1h-2zM523 236h1v1h-1zM538 236h2v1h-2zM543 236h2v1h-2zM546 236h2v1h-2zM550 236h1v1h-1zM556 236h1v1h-1zM559 236h1v1h-1zM564 236h1v1h-1zM567 236h2v1h-2zM496 237h1v1h-1zM523 237h1v1h-1zM538 237h2v1h-2zM542 237h1v1h-1zM544 237h2v1h-2zM547 237h1v1h-1zM550 237h1v1h-1zM556 237h1v1h-1zM559 237h1v1h-1zM563 237h1v1h-1zM566 237h1v1h-1zM568 237h1v1h-1zM495 238h1v1h-1zM522 238h1v1h-1zM537 238h1v1h-1zM539 238h1v1h-1zM542 238h2v1h-2zM545 238h2v1h-2zM549 238h1v1h-1zM555 238h1v1h-1zM558 238h1v1h-1zM563 238h1v1h-1zM566 238h2v1h-2zM493 239h2v1h-2zM522 239h1v1h-1zM537 239h1v1h-1zM539 239h1v1h-1zM541 239h1v1h-1zM543 239h2v1h-2zM546 239h1v1h-1zM549 239h1v1h-1zM555 239h1v1h-1zM558 239h1v1h-1zM562 239h1v1h-1zM565 239h1v1h-1zM567 239h1v1h-1zM492 240h1v1h-1zM522 240h1v1h-1zM537 240h1v1h-1zM539 240h1v1h-1zM541 240h1v1h-1zM543 240h3v1h-3zM549 240h1v1h-1zM554 240h1v1h-1zM558 240h1v1h-1zM562 240h1v1h-1zM565 240h2v1h-2zM490 241h2v1h-2zM522 241h1v1h-1zM537 241h1v1h-1zM539 241h1v1h-1zM541 241h1v1h-1zM543 241h2v1h-2zM549 241h1v1h-1zM553 241h1v1h-1zM558 241h1v1h-1zM562 241h1v1h-1zM565 241h1v1h-1zM489 242h1v1h-1zM522 242h1v1h-1zM537 242h1v1h-1zM539 242h2v1h-2zM543 242h2v1h-2zM549 242h1v1h-1zM553 242h1v1h-1zM558 242h1v1h-1zM561 242h1v1h-1zM564 242h2v1h-2zM488 243h1v1h-1zM521 243h1v1h-1zM536 243h1v1h-1zM539 243h2v1h-2zM542 243h2v1h-2zM548 243h1v1h-1zM552 243h1v1h-1zM557 243h1v1h-1zM561 243h1v1h-1zM564 243h1v1h-1zM486 244h2v1h-2zM521 244h1v1h-1zM536 244h1v1h-1zM539 244h1v1h-1zM542 244h2v1h-2zM548 244h1v1h-1zM552 244h1v1h-1zM557 244h1v1h-1zM560 244h1v1h-1zM563 244h2v1h-2zM485 245h1v1h-1zM521 245h1v1h-1zM536 245h1v1h-1zM539 245h1v1h-1zM542 245h1v1h-1zM548 245h1v1h-1zM551 245h1v1h-1zM557 245h1v1h-1zM560 245h1v1h-1zM563 245h1v1h-1zM484 246h1v1h-1zM520 246h1v1h-1zM536 246h1v1h-1zM539 246h1v1h-1zM542 246h1v1h-1zM547 246h2v1h-2zM551 246h1v1h-1zM557 246h1v1h-1zM560 246h1v1h-1zM562 246h2v1h-2zM483 247h1v1h-1zM519 247h1v1h-1zM536 247h1v1h-1zM539 247h1v1h-1zM541 247h2v1h-2zM547 247h2v1h-2zM551 247h1v1h-1zM556 247h2v1h-2zM559 247h1v1h-1zM562 247h1v1h-1zM481 248h2v1h-2zM519 248h1v1h-1zM536 248h1v1h-1zM538 248h1v1h-1zM541 248h1v1h-1zM543 248h1v1h-1zM546 248h3v1h-3zM551 248h1v1h-1zM556 248h2v1h-2zM559 248h1v1h-1zM561 248h2v1h-2zM480 249h1v1h-1zM518 249h1v1h-1zM536 249h1v1h-1zM538 249h1v1h-1zM540 249h2v1h-2zM543 249h1v1h-1zM546 249h3v1h-3zM551 249h1v1h-1zM555 249h1v1h-1zM557 249h2v1h-2zM561 249h1v1h-1zM479 250h1v1h-1zM517 250h1v1h-1zM536 250h1v1h-1zM538 250h1v1h-1zM540 250h2v1h-2zM543 250h1v1h-1zM545 250h1v1h-1zM547 250h2v1h-2zM551 250h1v1h-1zM555 250h1v1h-1zM557 250h2v1h-2zM560 250h2v1h-2zM478 251h1v1h-1zM516 251h1v1h-1zM536 251h1v1h-1zM538 251h1v1h-1zM540 251h2v1h-2zM543 251h2v1h-2zM547 251h2v1h-2zM551 251h1v1h-1zM555 251h1v1h-1zM557 251h3v1h-3zM561 251h1v1h-1zM477 252h1v1h-1zM515 252h1v1h-1zM536 252h1v1h-1zM538 252h2v1h-2zM541 252h1v1h-1zM543 252h2v1h-2zM547 252h2v1h-2zM551 252h1v1h-1zM554 252h1v1h-1zM557 252h1v1h-1zM559 252h2v1h-2zM475 253h2v1h-2zM515 253h1v1h-1zM536 253h2v1h-2zM539 253h2v1h-2zM543 253h2v1h-2zM546 253h1v1h-1zM548 253h1v1h-1zM551 253h1v1h-1zM554 253h1v1h-1zM557 253h2v1h-2zM560 253h1v1h-1zM474 254h1v1h-1zM514 254h1v1h-1zM536 254h3v1h-3zM540 254h1v1h-1zM543 254h2v1h-2zM546 254h1v1h-1zM548 254h1v1h-1zM551 254h1v1h-1zM553 254h1v1h-1zM556 254h4v1h-4zM473 255h1v1h-1zM513 255h1v1h-1zM536 255h3v1h-3zM540 255h1v1h-1zM542 255h1v1h-1zM544 255h1v1h-1zM546 255h1v1h-1zM548 255h1v1h-1zM551 255h1v1h-1zM553 255h1v1h-1zM556 255h2v1h-2zM559 255h1v1h-1zM472 256h1v1h-1zM512 256h1v1h-1zM536 256h3v1h-3zM540 256h2v1h-2zM544 256h1v1h-1zM546 256h1v1h-1zM548 256h1v1h-1zM551 256h1v1h-1zM553 256h1v1h-1zM556 256h2v1h-2zM559 256h1v1h-1zM471 257h1v1h-1zM511 257h1v1h-1zM536 257h2v1h-2zM540 257h2v1h-2zM544 257h1v1h-1zM546 257h1v1h-1zM548 257h1v1h-1zM551 257h2v1h-2zM555 257h4v1h-4zM469 258h2v1h-2zM511 258h1v1h-1zM536 258h2v1h-2zM539 258h2v1h-2zM545 258h1v1h-1zM548 258h1v1h-1zM551 258h2v1h-2zM555 258h1v1h-1zM557 258h2v1h-2zM468 259h1v1h-1zM510 259h1v1h-1zM536 259h1v1h-1zM539 259h2v1h-2zM545 259h1v1h-1zM548 259h1v1h-1zM551 259h1v1h-1zM554 259h2v1h-2zM557 259h1v1h-1zM467 260h1v1h-1zM509 260h1v1h-1zM536 260h1v1h-1zM539 260h1v1h-1zM545 260h1v1h-1zM548 260h1v1h-1zM551 260h1v1h-1zM554 260h1v1h-1zM557 260h1v1h-1zM466 261h1v1h-1zM509 261h1v1h-1zM535 261h2v1h-2zM539 261h1v1h-1zM544 261h2v1h-2zM548 261h1v1h-1zM550 261h2v1h-2zM554 261h1v1h-1zM556 261h2v1h-2zM465 262h1v1h-1zM508 262h1v1h-1zM534 262h3v1h-3zM539 262h1v1h-1zM544 262h1v1h-1zM548 262h1v1h-1zM550 262h1v1h-1zM553 262h2v1h-2zM556 262h2v1h-2zM465 263h1v1h-1zM508 263h1v1h-1zM532 263h2v1h-2zM535 263h1v1h-1zM539 263h2v1h-2zM543 263h2v1h-2zM547 263h1v1h-1zM549 263h2v1h-2zM553 263h1v1h-1zM555 263h2v1h-2zM464 264h1v1h-1zM507 264h1v1h-1zM531 264h2v1h-2zM534 264h2v1h-2zM539 264h2v1h-2zM543 264h1v1h-1zM547 264h1v1h-1zM549 264h1v1h-1zM552 264h2v1h-2zM555 264h2v1h-2zM463 265h1v1h-1zM507 265h1v1h-1zM530 265h2v1h-2zM534 265h2v1h-2zM539 265h2v1h-2zM542 265h2v1h-2zM547 265h3v1h-3zM552 265h3v1h-3zM556 265h1v1h-1zM462 266h1v1h-1zM507 266h1v1h-1zM529 266h2v1h-2zM534 266h2v1h-2zM539 266h3v1h-3zM543 266h1v1h-1zM547 266h1v1h-1zM549 266h1v1h-1zM552 266h2v1h-2zM556 266h1v1h-1zM461 267h1v1h-1zM506 267h1v1h-1zM528 267h2v1h-2zM533 267h1v1h-1zM535 267h1v1h-1zM539 267h4v1h-4zM547 267h2v1h-2zM551 267h1v1h-1zM553 267h1v1h-1zM556 267h1v1h-1zM461 268h1v1h-1zM506 268h1v1h-1zM526 268h3v1h-3zM533 268h2v1h-2zM539 268h4v1h-4zM546 268h1v1h-1zM548 268h1v1h-1zM551 268h2v1h-2zM555 268h1v1h-1zM460 269h1v1h-1zM505 269h1v1h-1zM525 269h1v1h-1zM527 269h1v1h-1zM532 269h1v1h-1zM534 269h1v1h-1zM539 269h3v1h-3zM546 269h2v1h-2zM550 269h1v1h-1zM552 269h1v1h-1zM555 269h1v1h-1zM459 270h1v1h-1zM505 270h1v1h-1zM524 270h1v1h-1zM526 270h1v1h-1zM532 270h1v1h-1zM534 270h1v1h-1zM539 270h1v1h-1zM541 270h1v1h-1zM545 270h3v1h-3zM550 270h3v1h-3zM555 270h1v1h-1zM458 271h1v1h-1zM505 271h1v1h-1zM523 271h1v1h-1zM525 271h1v1h-1zM532 271h1v1h-1zM534 271h1v1h-1zM538 271h2v1h-2zM541 271h1v1h-1zM544 271h1v1h-1zM546 271h2v1h-2zM550 271h1v1h-1zM552 271h1v1h-1zM555 271h1v1h-1zM457 272h1v1h-1zM504 272h1v1h-1zM522 272h1v1h-1zM524 272h1v1h-1zM531 272h1v1h-1zM534 272h1v1h-1zM538 272h4v1h-4zM544 272h1v1h-1zM546 272h1v1h-1zM549 272h2v1h-2zM552 272h1v1h-1zM555 272h1v1h-1zM457 273h1v1h-1zM504 273h1v1h-1zM520 273h2v1h-2zM523 273h1v1h-1zM531 273h1v1h-1zM533 273h1v1h-1zM537 273h1v1h-1zM539 273h2v1h-2zM542 273h2v1h-2zM545 273h2v1h-2zM549 273h1v1h-1zM551 273h1v1h-1zM554 273h1v1h-1zM456 274h1v1h-1zM503 274h1v1h-1zM519 274h1v1h-1zM522 274h1v1h-1zM530 274h1v1h-1zM533 274h1v1h-1zM537 274h1v1h-1zM539 274h1v1h-1zM542 274h2v1h-2zM545 274h1v1h-1zM548 274h2v1h-2zM551 274h1v1h-1zM554 274h1v1h-1zM455 275h1v1h-1zM503 275h1v1h-1zM518 275h1v1h-1zM521 275h1v1h-1zM530 275h1v1h-1zM533 275h1v1h-1zM536 275h1v1h-1zM539 275h1v1h-1zM542 275h1v1h-1zM545 275h1v1h-1zM548 275h1v1h-1zM551 275h1v1h-1zM554 275h1v1h-1zM454 276h1v1h-1zM503 276h1v1h-1zM516 276h2v1h-2zM520 276h1v1h-1zM529 276h2v1h-2zM533 276h1v1h-1zM536 276h1v1h-1zM538 276h2v1h-2zM541 276h2v1h-2zM544 276h2v1h-2zM547 276h2v1h-2zM550 276h1v1h-1zM553 276h1v1h-1zM453 277h1v1h-1zM502 277h1v1h-1zM515 277h1v1h-1zM519 277h1v1h-1zM528 277h2v1h-2zM532 277h1v1h-1zM535 277h1v1h-1zM538 277h1v1h-1zM540 277h2v1h-2zM543 277h4v1h-4zM548 277h2v1h-2zM552 277h2v1h-2zM452 278h1v1h-1zM502 278h1v1h-1zM513 278h2v1h-2zM517 278h2v1h-2zM527 278h1v1h-1zM529 278h1v1h-1zM532 278h1v1h-1zM535 278h1v1h-1zM537 278h5v1h-5zM543 278h2v1h-2zM546 278h2v1h-2zM549 278h1v1h-1zM552 278h1v1h-1zM451 279h1v1h-1zM501 279h1v1h-1zM511 279h2v1h-2zM516 279h1v1h-1zM526 279h1v1h-1zM528 279h1v1h-1zM531 279h1v1h-1zM534 279h1v1h-1zM537 279h4v1h-4zM542 279h4v1h-4zM547 279h2v1h-2zM551 279h2v1h-2zM450 280h1v1h-1zM501 280h1v1h-1zM510 280h1v1h-1zM515 280h1v1h-1zM525 280h1v1h-1zM528 280h1v1h-1zM531 280h1v1h-1zM534 280h1v1h-1zM536 280h3v1h-3zM540 280h2v1h-2zM543 280h2v1h-2zM547 280h1v1h-1zM550 280h2v1h-2zM449 281h1v1h-1zM501 281h1v1h-1zM508 281h2v1h-2zM514 281h1v1h-1zM524 281h1v1h-1zM528 281h1v1h-1zM531 281h1v1h-1zM534 281h4v1h-4zM540 281h1v1h-1zM543 281h2v1h-2zM546 281h2v1h-2zM549 281h2v1h-2zM448 282h1v1h-1zM500 282h1v1h-1zM507 282h1v1h-1zM513 282h1v1h-1zM523 282h1v1h-1zM527 282h1v1h-1zM530 282h1v1h-1zM533 282h1v1h-1zM535 282h2v1h-2zM539 282h1v1h-1zM542 282h1v1h-1zM544 282h2v1h-2zM547 282h2v1h-2zM550 282h1v1h-1zM447 283h1v1h-1zM500 283h1v1h-1zM505 283h2v1h-2zM511 283h2v1h-2zM522 283h1v1h-1zM527 283h1v1h-1zM530 283h1v1h-1zM533 283h2v1h-2zM536 283h1v1h-1zM539 283h1v1h-1zM542 283h2v1h-2zM545 283h2v1h-2zM548 283h2v1h-2zM446 284h1v1h-1zM499 284h1v1h-1zM503 284h2v1h-2zM510 284h1v1h-1zM521 284h1v1h-1zM526 284h1v1h-1zM529 284h1v1h-1zM532 284h4v1h-4zM538 284h1v1h-1zM541 284h1v1h-1zM543 284h2v1h-2zM546 284h2v1h-2zM549 284h1v1h-1zM445 285h1v1h-1zM499 285h1v1h-1zM502 285h1v1h-1zM509 285h1v1h-1zM520 285h1v1h-1zM526 285h1v1h-1zM529 285h1v1h-1zM532 285h4v1h-4zM537 285h2v1h-2zM540 285h2v1h-2zM543 285h1v1h-1zM546 285h1v1h-1zM548 285h1v1h-1zM444 286h1v1h-1zM499 286h3v1h-3zM508 286h1v1h-1zM519 286h1v1h-1zM526 286h1v1h-1zM529 286h1v1h-1zM531 286h3v1h-3zM535 286h2v1h-2zM538 286h2v1h-2zM541 286h3v1h-3zM545 286h3v1h-3zM443 287h1v1h-1zM498 287h2v1h-2zM507 287h1v1h-1zM518 287h1v1h-1zM525 287h1v1h-1zM528 287h1v1h-1zM530 287h3v1h-3zM534 287h2v1h-2zM537 287h2v1h-2zM540 287h2v1h-2zM543 287h2v1h-2zM546 287h2v1h-2zM442 288h1v1h-1zM497 288h2v1h-2zM505 288h2v1h-2zM517 288h1v1h-1zM525 288h1v1h-1zM528 288h2v1h-2zM531 288h2v1h-2zM534 288h2v1h-2zM537 288h2v1h-2zM540 288h3v1h-3zM544 288h3v1h-3zM441 289h1v1h-1zM495 289h3v1h-3zM504 289h1v1h-1zM516 289h1v1h-1zM524 289h1v1h-1zM527 289h2v1h-2zM530 289h2v1h-2zM533 289h2v1h-2zM536 289h2v1h-2zM539 289h2v1h-2zM542 289h2v1h-2zM545 289h2v1h-2zM439 290h2v1h-2zM492 290h3v1h-3zM497 290h1v1h-1zM502 290h2v1h-2zM514 290h2v1h-2zM524 290h1v1h-1zM527 290h1v1h-1zM530 290h1v1h-1zM533 290h1v1h-1zM536 290h1v1h-1zM539 290h1v1h-1zM542 290h1v1h-1zM545 290h1v1h-1zM437 291h2v1h-2zM488 291h4v1h-4zM496 291h1v1h-1zM498 291h4v1h-4zM511 291h3v1h-3zM522 291h2v1h-2zM525 291h2v1h-2zM529 291h1v1h-1zM532 291h1v1h-1zM535 291h2v1h-2zM538 291h2v1h-2zM541 291h2v1h-2zM544 291h2v1h-2zM434 292h3v1h-3zM484 292h4v1h-4zM494 292h4v1h-4zM508 292h3v1h-3zM520 292h2v1h-2zM524 292h2v1h-2zM528 292h2v1h-2zM531 292h1v1h-1zM534 292h2v1h-2zM537 292h1v1h-1zM539 292h2v1h-2zM542 292h2v1h-2zM545 292h1v1h-1zM431 293h3v1h-3zM479 293h5v1h-5zM490 293h4v1h-4zM495 293h1v1h-1zM505 293h3v1h-3zM518 293h2v1h-2zM522 293h2v1h-2zM525 293h1v1h-1zM527 293h2v1h-2zM530 293h2v1h-2zM534 293h3v1h-3zM538 293h2v1h-2zM541 293h1v1h-1zM543 293h2v1h-2zM429 294h2v1h-2zM475 294h4v1h-4zM486 294h4v1h-4zM495 294h1v1h-1zM502 294h3v1h-3zM516 294h2v1h-2zM520 294h2v1h-2zM524 294h1v1h-1zM526 294h5v1h-5zM533 294h3v1h-3zM538 294h1v1h-1zM541 294h2v1h-2zM544 294h1v1h-1zM426 295h3v1h-3zM470 295h5v1h-5zM483 295h3v1h-3zM494 295h1v1h-1zM499 295h3v1h-3zM514 295h2v1h-2zM519 295h1v1h-1zM523 295h1v1h-1zM525 295h5v1h-5zM532 295h1v1h-1zM534 295h1v1h-1zM537 295h2v1h-2zM541 295h1v1h-1zM544 295h1v1h-1zM424 296h2v1h-2zM466 296h4v1h-4zM479 296h4v1h-4zM493 296h1v1h-1zM496 296h3v1h-3zM512 296h2v1h-2zM517 296h2v1h-2zM522 296h1v1h-1zM524 296h5v1h-5zM531 296h1v1h-1zM533 296h2v1h-2zM536 296h1v1h-1zM538 296h1v1h-1zM540 296h2v1h-2zM544 296h1v1h-1zM421 297h3v1h-3zM462 297h4v1h-4zM475 297h4v1h-4zM493 297h3v1h-3zM510 297h2v1h-2zM516 297h1v1h-1zM521 297h1v1h-1zM523 297h2v1h-2zM526 297h2v1h-2zM530 297h1v1h-1zM532 297h2v1h-2zM535 297h1v1h-1zM538 297h2v1h-2zM541 297h1v1h-1zM544 297h1v1h-1zM418 298h3v1h-3zM457 298h5v1h-5zM471 298h4v1h-4zM490 298h3v1h-3zM508 298h2v1h-2zM514 298h2v1h-2zM521 298h2v1h-2zM524 298h2v1h-2zM527 298h1v1h-1zM530 298h2v1h-2zM533 298h2v1h-2zM537 298h1v1h-1zM539 298h2v1h-2zM543 298h1v1h-1zM416 299h2v1h-2zM453 299h4v1h-4zM467 299h4v1h-4zM487 299h3v1h-3zM492 299h1v1h-1zM506 299h2v1h-2zM512 299h2v1h-2zM520 299h2v1h-2zM523 299h4v1h-4zM529 299h2v1h-2zM532 299h2v1h-2zM537 299h2v1h-2zM540 299h1v1h-1zM543 299h1v1h-1zM413 300h3v1h-3zM448 300h5v1h-5zM464 300h3v1h-3zM484 300h3v1h-3zM491 300h1v1h-1zM504 300h2v1h-2zM511 300h1v1h-1zM519 300h2v1h-2zM522 300h4v1h-4zM528 300h2v1h-2zM532 300h1v1h-1zM537 300h1v1h-1zM540 300h1v1h-1zM543 300h1v1h-1zM411 301h2v1h-2zM444 301h4v1h-4zM460 301h4v1h-4zM481 301h3v1h-3zM490 301h1v1h-1zM502 301h2v1h-2zM509 301h2v1h-2zM518 301h2v1h-2zM521 301h4v1h-4zM527 301h2v1h-2zM531 301h2v1h-2zM536 301h2v1h-2zM540 301h1v1h-1zM543 301h1v1h-1zM408 302h3v1h-3zM440 302h4v1h-4zM456 302h4v1h-4zM478 302h3v1h-3zM490 302h1v1h-1zM500 302h2v1h-2zM508 302h1v1h-1zM517 302h2v1h-2zM520 302h2v1h-2zM523 302h1v1h-1zM526 302h2v1h-2zM530 302h2v1h-2zM535 302h1v1h-1zM537 302h1v1h-1zM540 302h1v1h-1zM543 302h1v1h-1zM405 303h3v1h-3zM435 303h5v1h-5zM452 303h4v1h-4zM475 303h3v1h-3zM489 303h1v1h-1zM498 303h2v1h-2zM506 303h2v1h-2zM517 303h1v1h-1zM520 303h1v1h-1zM522 303h2v1h-2zM526 303h1v1h-1zM529 303h1v1h-1zM531 303h1v1h-1zM535 303h2v1h-2zM539 303h1v1h-1zM542 303h1v1h-1zM403 304h2v1h-2zM431 304h4v1h-4zM448 304h4v1h-4zM472 304h3v1h-3zM489 304h1v1h-1zM496 304h2v1h-2zM504 304h2v1h-2zM516 304h1v1h-1zM519 304h1v1h-1zM522 304h1v1h-1zM525 304h1v1h-1zM528 304h1v1h-1zM530 304h1v1h-1zM534 304h1v1h-1zM536 304h1v1h-1zM539 304h1v1h-1zM542 304h1v1h-1zM400 305h3v1h-3zM426 305h5v1h-5zM444 305h4v1h-4zM469 305h3v1h-3zM487 305h2v1h-2zM493 305h3v1h-3zM502 305h2v1h-2zM514 305h2v1h-2zM518 305h1v1h-1zM521 305h1v1h-1zM524 305h1v1h-1zM527 305h1v1h-1zM530 305h1v1h-1zM533 305h1v1h-1zM536 305h1v1h-1zM539 305h1v1h-1zM542 305h1v1h-1zM397 306h3v1h-3zM422 306h4v1h-4zM439 306h5v1h-5zM465 306h4v1h-4zM485 306h2v1h-2zM489 306h4v1h-4zM499 306h3v1h-3zM512 306h3v1h-3zM516 306h2v1h-2zM519 306h2v1h-2zM522 306h2v1h-2zM526 306h1v1h-1zM529 306h1v1h-1zM532 306h1v1h-1zM535 306h1v1h-1zM538 306h1v1h-1zM541 306h1v1h-1zM395 307h2v1h-2zM418 307h4v1h-4zM435 307h4v1h-4zM461 307h4v1h-4zM483 307h6v1h-6zM497 307h2v1h-2zM510 307h3v1h-3zM514 307h2v1h-2zM517 307h2v1h-2zM521 307h2v1h-2zM525 307h1v1h-1zM528 307h1v1h-1zM531 307h1v1h-1zM534 307h1v1h-1zM537 307h1v1h-1zM540 307h1v1h-1zM392 308h3v1h-3zM413 308h5v1h-5zM430 308h5v1h-5zM457 308h4v1h-4zM481 308h4v1h-4zM494 308h3v1h-3zM508 308h3v1h-3zM512 308h2v1h-2zM515 308h3v1h-3zM520 308h2v1h-2zM524 308h1v1h-1zM527 308h1v1h-1zM530 308h1v1h-1zM533 308h1v1h-1zM537 308h1v1h-1zM540 308h1v1h-1zM389 309h3v1h-3zM409 309h4v1h-4zM425 309h5v1h-5zM453 309h4v1h-4zM477 309h4v1h-4zM491 309h3v1h-3zM506 309h3v1h-3zM510 309h2v1h-2zM513 309h3v1h-3zM518 309h2v1h-2zM523 309h1v1h-1zM526 309h1v1h-1zM529 309h1v1h-1zM532 309h1v1h-1zM536 309h1v1h-1zM539 309h1v1h-1zM386 310h3v1h-3zM404 310h5v1h-5zM420 310h5v1h-5zM449 310h4v1h-4zM474 310h5v1h-5zM488 310h3v1h-3zM503 310h4v1h-4zM508 310h2v1h-2zM512 310h2v1h-2zM517 310h2v1h-2zM522 310h1v1h-1zM525 310h1v1h-1zM528 310h1v1h-1zM531 310h1v1h-1zM535 310h1v1h-1zM538 310h1v1h-1zM383 311h3v1h-3zM400 311h4v1h-4zM415 311h5v1h-5zM445 311h4v1h-4zM470 311h6v1h-6zM485 311h3v1h-3zM501 311h4v1h-4zM506 311h3v1h-3zM510 311h3v1h-3zM515 311h3v1h-3zM521 311h1v1h-1zM524 311h1v1h-1zM527 311h1v1h-1zM530 311h1v1h-1zM534 311h1v1h-1zM537 311h1v1h-1zM381 312h2v1h-2zM396 312h4v1h-4zM411 312h4v1h-4zM441 312h4v1h-4zM466 312h4v1h-4zM472 312h2v1h-2zM483 312h2v1h-2zM499 312h4v1h-4zM504 312h3v1h-3zM508 312h3v1h-3zM514 312h1v1h-1zM516 312h1v1h-1zM520 312h1v1h-1zM523 312h1v1h-1zM526 312h1v1h-1zM529 312h1v1h-1zM533 312h1v1h-1zM536 312h1v1h-1zM378 313h3v1h-3zM391 313h5v1h-5zM406 313h5v1h-5zM437 313h4v1h-4zM462 313h4v1h-4zM470 313h2v1h-2zM480 313h3v1h-3zM497 313h4v1h-4zM502 313h3v1h-3zM506 313h4v1h-4zM513 313h3v1h-3zM519 313h1v1h-1zM522 313h1v1h-1zM525 313h1v1h-1zM528 313h1v1h-1zM533 313h1v1h-1zM536 313h1v1h-1zM375 314h3v1h-3zM387 314h4v1h-4zM401 314h5v1h-5zM433 314h4v1h-4zM458 314h4v1h-4zM468 314h2v1h-2zM477 314h3v1h-3zM495 314h4v1h-4zM500 314h3v1h-3zM504 314h4v1h-4zM511 314h3v1h-3zM518 314h1v1h-1zM521 314h1v1h-1zM524 314h1v1h-1zM527 314h1v1h-1zM532 314h1v1h-1zM535 314h1v1h-1zM372 315h3v1h-3zM382 315h5v1h-5zM396 315h5v1h-5zM429 315h4v1h-4zM455 315h3v1h-3zM465 315h3v1h-3zM474 315h3v1h-3zM492 315h5v1h-5zM498 315h3v1h-3zM503 315h1v1h-1zM505 315h1v1h-1zM510 315h1v1h-1zM512 315h1v1h-1zM517 315h1v1h-1zM520 315h1v1h-1zM523 315h1v1h-1zM526 315h1v1h-1zM531 315h1v1h-1zM534 315h1v1h-1zM369 316h3v1h-3zM378 316h4v1h-4zM391 316h5v1h-5zM425 316h4v1h-4zM451 316h4v1h-4zM463 316h2v1h-2zM471 316h3v1h-3zM490 316h2v1h-2zM493 316h2v1h-2zM496 316h4v1h-4zM501 316h4v1h-4zM508 316h2v1h-2zM511 316h1v1h-1zM516 316h1v1h-1zM519 316h1v1h-1zM522 316h1v1h-1zM525 316h1v1h-1zM530 316h1v1h-1zM533 316h1v1h-1zM367 317h2v1h-2zM374 317h4v1h-4zM387 317h4v1h-4zM421 317h4v1h-4zM447 317h4v1h-4zM461 317h2v1h-2zM469 317h2v1h-2zM488 317h2v1h-2zM491 317h2v1h-2zM494 317h4v1h-4zM499 317h2v1h-2zM502 317h1v1h-1zM507 317h1v1h-1zM510 317h1v1h-1zM515 317h1v1h-1zM518 317h1v1h-1zM521 317h1v1h-1zM524 317h1v1h-1zM529 317h1v1h-1zM532 317h1v1h-1zM364 318h3v1h-3zM369 318h5v1h-5zM382 318h5v1h-5zM417 318h4v1h-4zM443 318h4v1h-4zM459 318h2v1h-2zM466 318h3v1h-3zM486 318h2v1h-2zM489 318h2v1h-2zM492 318h4v1h-4zM497 318h2v1h-2zM500 318h2v1h-2zM506 318h1v1h-1zM508 318h2v1h-2zM514 318h1v1h-1zM517 318h1v1h-1zM520 318h1v1h-1zM523 318h1v1h-1zM529 318h1v1h-1zM532 318h1v1h-1zM361 319h3v1h-3zM365 319h4v1h-4zM377 319h5v1h-5zM413 319h4v1h-4zM439 319h4v1h-4zM457 319h2v1h-2zM463 319h3v1h-3zM484 319h2v1h-2zM487 319h2v1h-2zM490 319h4v1h-4zM495 319h2v1h-2zM498 319h2v1h-2zM504 319h2v1h-2zM507 319h1v1h-1zM513 319h1v1h-1zM516 319h1v1h-1zM519 319h1v1h-1zM522 319h1v1h-1zM528 319h1v1h-1zM531 319h1v1h-1zM356 320h9v1h-9zM372 320h5v1h-5zM408 320h5v1h-5zM435 320h4v1h-4zM454 320h3v1h-3zM459 320h4v1h-4zM479 320h19v1h-19zM501 320h6v1h-6zM510 320h3v1h-3zM514 320h2v1h-2zM517 320h2v1h-2zM520 320h2v1h-2zM526 320h2v1h-2zM530 320h1v1h-1zM350 321h10v1h-10zM366 321h6v1h-6zM404 321h4v1h-4zM430 321h5v1h-5zM450 321h9v1h-9zM473 321h22v1h-22zM496 321h8v1h-8zM506 321h11v1h-11zM518 321h2v1h-2zM524 321h2v1h-2zM528 321h2v1h-2zM344 322h11v1h-11zM361 322h5v1h-5zM399 322h5v1h-5zM425 322h5v1h-5zM447 322h7v1h-7zM467 322h23v1h-23zM491 322h9v1h-9zM502 322h8v1h-8zM511 322h3v1h-3zM515 322h3v1h-3zM522 322h2v1h-2zM527 322h1v1h-1zM338 323h11v1h-11zM355 323h6v1h-6zM394 323h5v1h-5zM420 323h5v1h-5zM443 323h6v1h-6zM461 323h24v1h-24zM486 323h10v1h-10zM498 323h8v1h-8zM507 323h4v1h-4zM512 323h3v1h-3zM520 323h2v1h-2zM525 323h2v1h-2zM332 324h6v1h-6zM339 324h5v1h-5zM350 324h5v1h-5zM390 324h4v1h-4zM415 324h5v1h-5zM438 324h5v1h-5zM455 324h24v1h-24zM481 324h5v1h-5zM487 324h4v1h-4zM494 324h8v1h-8zM504 324h3v1h-3zM510 324h2v1h-2zM518 324h2v1h-2zM523 324h2v1h-2zM326 325h6v1h-6zM333 325h6v1h-6zM344 325h6v1h-6zM385 325h5v1h-5zM410 325h5v1h-5zM433 325h6v1h-6zM448 325h26v1h-26zM476 325h5v1h-5zM482 325h5v1h-5zM489 325h5v1h-5zM495 325h3v1h-3zM501 325h3v1h-3zM507 325h3v1h-3zM515 325h3v1h-3zM522 325h1v1h-1zM320 326h6v1h-6zM328 326h5v1h-5zM339 326h5v1h-5zM381 326h4v1h-4zM405 326h5v1h-5zM428 326h8v1h-8zM442 326h27v1h-27zM471 326h5v1h-5zM478 326h4v1h-4zM485 326h4v1h-4zM491 326h4v1h-4zM498 326h3v1h-3zM505 326h2v1h-2zM513 326h2v1h-2zM520 326h2v1h-2zM314 327h6v1h-6zM323 327h5v1h-5zM333 327h6v1h-6zM376 327h5v1h-5zM400 327h5v1h-5zM423 327h5v1h-5zM429 327h3v1h-3zM436 327h28v1h-28zM466 327h5v1h-5zM474 327h4v1h-4zM481 327h4v1h-4zM487 327h4v1h-4zM495 327h3v1h-3zM502 327h3v1h-3zM511 327h2v1h-2zM519 327h1v1h-1zM307 328h7v1h-7zM317 328h6v1h-6zM327 328h6v1h-6zM371 328h5v1h-5zM395 328h5v1h-5zM417 328h6v1h-6zM425 328h4v1h-4zM430 328h18v1h-18zM449 328h10v1h-10zM461 328h5v1h-5zM469 328h5v1h-5zM477 328h4v1h-4zM483 328h4v1h-4zM491 328h4v1h-4zM499 328h3v1h-3zM509 328h2v1h-2zM517 328h2v1h-2zM301 329h6v1h-6zM312 329h5v1h-5zM322 329h5v1h-5zM367 329h4v1h-4zM390 329h5v1h-5zM412 329h5v1h-5zM421 329h21v1h-21zM443 329h10v1h-10zM456 329h5v1h-5zM465 329h4v1h-4zM473 329h4v1h-4zM479 329h4v1h-4zM488 329h3v1h-3zM497 329h2v1h-2zM507 329h2v1h-2zM515 329h2v1h-2zM295 330h6v1h-6zM307 330h5v1h-5zM316 330h6v1h-6zM362 330h5v1h-5zM385 330h5v1h-5zM407 330h5v1h-5zM417 330h19v1h-19zM438 330h10v1h-10zM451 330h5v1h-5zM460 330h5v1h-5zM468 330h5v1h-5zM476 330h3v1h-3zM485 330h3v1h-3zM494 330h3v1h-3zM504 330h3v1h-3zM514 330h1v1h-1zM289 331h6v1h-6zM301 331h6v1h-6zM311 331h5v1h-5zM358 331h4v1h-4zM380 331h5v1h-5zM402 331h5v1h-5zM411 331h20v1h-20zM432 331h11v1h-11zM446 331h5v1h-5zM456 331h4v1h-4zM464 331h4v1h-4zM472 331h4v1h-4zM482 331h3v1h-3zM492 331h2v1h-2zM502 331h2v1h-2zM512 331h2v1h-2zM283 332h6v1h-6zM296 332h5v1h-5zM305 332h6v1h-6zM353 332h5v1h-5zM375 332h5v1h-5zM397 332h5v1h-5zM405 332h20v1h-20zM427 332h5v1h-5zM433 332h5v1h-5zM441 332h5v1h-5zM452 332h4v1h-4zM460 332h4v1h-4zM468 332h4v1h-4zM479 332h3v1h-3zM489 332h3v1h-3zM500 332h2v1h-2zM511 332h1v1h-1zM277 333h6v1h-6zM291 333h5v1h-5zM300 333h5v1h-5zM348 333h5v1h-5zM370 333h5v1h-5zM391 333h6v1h-6zM399 333h20v1h-20zM422 333h11v1h-11zM436 333h5v1h-5zM447 333h5v1h-5zM456 333h4v1h-4zM464 333h4v1h-4zM475 333h4v1h-4zM486 333h3v1h-3zM498 333h2v1h-2zM509 333h2v1h-2zM271 334h6v1h-6zM285 334h6v1h-6zM294 334h6v1h-6zM344 334h4v1h-4zM365 334h5v1h-5zM386 334h5v1h-5zM393 334h20v1h-20zM416 334h11v1h-11zM431 334h5v1h-5zM443 334h4v1h-4zM452 334h4v1h-4zM460 334h4v1h-4zM472 334h3v1h-3zM484 334h2v1h-2zM496 334h2v1h-2zM507 334h2v1h-2zM265 335h6v1h-6zM280 335h5v1h-5zM289 335h5v1h-5zM339 335h5v1h-5zM359 335h6v1h-6zM380 335h27v1h-27zM410 335h6v1h-6zM417 335h5v1h-5zM426 335h5v1h-5zM438 335h5v1h-5zM447 335h5v1h-5zM456 335h4v1h-4zM468 335h4v1h-4zM480 335h4v1h-4zM492 335h4v1h-4zM504 335h3v1h-3zM259 336h6v1h-6zM275 336h5v1h-5zM284 336h5v1h-5zM333 336h6v1h-6zM353 336h6v1h-6zM374 336h27v1h-27zM404 336h6v1h-6zM411 336h6v1h-6zM420 336h6v1h-6zM432 336h6v1h-6zM441 336h6v1h-6zM450 336h6v1h-6zM463 336h5v1h-5zM475 336h5v1h-5zM488 336h4v1h-4zM500 336h4v1h-4zM254 337h5v1h-5zM270 337h5v1h-5zM280 337h4v1h-4zM327 337h6v1h-6zM347 337h6v1h-6zM368 337h27v1h-27zM398 337h6v1h-6zM405 337h6v1h-6zM414 337h6v1h-6zM426 337h6v1h-6zM436 337h5v1h-5zM445 337h5v1h-5zM458 337h5v1h-5zM471 337h4v1h-4zM484 337h4v1h-4zM496 337h4v1h-4zM249 338h5v1h-5zM264 338h6v1h-6zM275 338h5v1h-5zM321 338h6v1h-6zM341 338h6v1h-6zM361 338h28v1h-28zM392 338h6v1h-6zM399 338h6v1h-6zM408 338h6v1h-6zM420 338h6v1h-6zM430 338h6v1h-6zM440 338h5v1h-5zM452 338h6v1h-6zM466 338h5v1h-5zM479 338h5v1h-5zM492 338h4v1h-4zM243 339h6v1h-6zM259 339h5v1h-5zM270 339h5v1h-5zM315 339h6v1h-6zM335 339h6v1h-6zM355 339h27v1h-27zM386 339h6v1h-6zM393 339h6v1h-6zM402 339h6v1h-6zM414 339h6v1h-6zM424 339h6v1h-6zM434 339h6v1h-6zM447 339h5v1h-5zM461 339h5v1h-5zM475 339h4v1h-4zM488 339h4v1h-4zM238 340h5v1h-5zM254 340h5v1h-5zM265 340h5v1h-5zM309 340h6v1h-6zM329 340h6v1h-6zM349 340h27v1h-27zM380 340h6v1h-6zM387 340h6v1h-6zM397 340h5v1h-5zM409 340h5v1h-5zM419 340h5v1h-5zM429 340h5v1h-5zM442 340h5v1h-5zM456 340h5v1h-5zM470 340h5v1h-5zM483 340h5v1h-5zM232 341h6v1h-6zM249 341h5v1h-5zM260 341h5v1h-5zM303 341h6v1h-6zM323 341h6v1h-6zM342 341h28v1h-28zM374 341h6v1h-6zM381 341h6v1h-6zM391 341h6v1h-6zM403 341h6v1h-6zM413 341h6v1h-6zM423 341h6v1h-6zM437 341h5v1h-5zM451 341h5v1h-5zM466 341h4v1h-4zM479 341h4v1h-4zM227 342h5v1h-5zM244 342h5v1h-5zM256 342h4v1h-4zM297 342h6v1h-6zM317 342h6v1h-6zM336 342h27v1h-27zM368 342h6v1h-6zM375 342h6v1h-6zM385 342h6v1h-6zM397 342h6v1h-6zM408 342h5v1h-5zM418 342h5v1h-5zM432 342h5v1h-5zM447 342h4v1h-4zM462 342h4v1h-4zM475 342h4v1h-4zM222 343h5v1h-5zM238 343h6v1h-6zM251 343h5v1h-5zM291 343h6v1h-6zM310 343h7v1h-7zM330 343h27v1h-27zM361 343h7v1h-7zM369 343h6v1h-6zM379 343h6v1h-6zM391 343h6v1h-6zM402 343h6v1h-6zM413 343h5v1h-5zM426 343h6v1h-6zM442 343h5v1h-5zM457 343h5v1h-5zM471 343h4v1h-4zM216 344h6v1h-6zM233 344h5v1h-5zM246 344h5v1h-5zM285 344h6v1h-6zM304 344h6v1h-6zM323 344h28v1h-28zM355 344h6v1h-6zM363 344h6v1h-6zM373 344h6v1h-6zM385 344h6v1h-6zM396 344h6v1h-6zM407 344h6v1h-6zM421 344h5v1h-5zM437 344h5v1h-5zM453 344h4v1h-4zM467 344h4v1h-4zM211 345h5v1h-5zM228 345h5v1h-5zM241 345h5v1h-5zM279 345h6v1h-6zM298 345h6v1h-6zM317 345h28v1h-28zM349 345h6v1h-6zM357 345h6v1h-6zM368 345h5v1h-5zM380 345h5v1h-5zM391 345h5v1h-5zM402 345h5v1h-5zM416 345h5v1h-5zM432 345h5v1h-5zM448 345h5v1h-5zM462 345h5v1h-5zM205 346h6v1h-6zM223 346h5v1h-5zM236 346h5v1h-5zM273 346h6v1h-6zM292 346h6v1h-6zM311 346h28v1h-28zM343 346h6v1h-6zM351 346h6v1h-6zM362 346h6v1h-6zM374 346h6v1h-6zM385 346h6v1h-6zM396 346h6v1h-6zM411 346h5v1h-5zM427 346h5v1h-5zM444 346h4v1h-4zM458 346h4v1h-4zM200 347h5v1h-5zM218 347h5v1h-5zM232 347h4v1h-4zM267 347h6v1h-6zM286 347h6v1h-6zM304 347h29v1h-29zM337 347h6v1h-6zM345 347h6v1h-6zM356 347h6v1h-6zM368 347h6v1h-6zM380 347h5v1h-5zM391 347h5v1h-5zM406 347h5v1h-5zM423 347h4v1h-4zM440 347h4v1h-4zM454 347h4v1h-4zM195 348h5v1h-5zM212 348h6v1h-6zM227 348h5v1h-5zM261 348h6v1h-6zM280 348h6v1h-6zM298 348h29v1h-29zM331 348h6v1h-6zM339 348h6v1h-6zM350 348h6v1h-6zM362 348h6v1h-6zM374 348h6v1h-6zM386 348h5v1h-5zM400 348h6v1h-6zM418 348h5v1h-5zM435 348h5v1h-5zM450 348h4v1h-4zM189 349h6v1h-6zM207 349h5v1h-5zM222 349h5v1h-5zM255 349h6v1h-6zM274 349h6v1h-6zM292 349h29v1h-29zM325 349h6v1h-6zM333 349h6v1h-6zM344 349h6v1h-6zM356 349h6v1h-6zM368 349h6v1h-6zM380 349h6v1h-6zM395 349h5v1h-5zM413 349h5v1h-5zM431 349h4v1h-4zM446 349h4v1h-4zM184 350h5v1h-5zM202 350h5v1h-5zM217 350h5v1h-5zM249 350h6v1h-6zM266 350h8v1h-8zM284 350h31v1h-31zM317 350h8v1h-8zM326 350h7v1h-7zM337 350h7v1h-7zM349 350h7v1h-7zM361 350h7v1h-7zM372 350h8v1h-8zM387 350h8v1h-8zM405 350h8v1h-8zM423 350h8v1h-8zM437 350h9v1h-9zM180 351h4v1h-4zM198 351h4v1h-4zM212 351h5v1h-5zM241 351h8v1h-8zM258 351h8v1h-8zM275 351h33v1h-33zM309 351h17v1h-17zM328 351h9v1h-9zM339 351h10v1h-10zM351 351h10v1h-10zM362 351h10v1h-10zM376 351h11v1h-11zM394 351h11v1h-11zM411 351h12v1h-12zM425 351h12v1h-12zM176 352h4v1h-4zM194 352h4v1h-4zM207 352h5v1h-5zM234 352h7v1h-7zM250 352h8v1h-8zM267 352h50v1h-50zM318 352h10v1h-10zM329 352h10v1h-10zM341 352h10v1h-10zM352 352h10v1h-10zM366 352h10v1h-10zM382 352h12v1h-12zM399 352h12v1h-12zM413 352h12v1h-12zM171 353h5v1h-5zM189 353h5v1h-5zM202 353h5v1h-5zM226 353h8v1h-8zM242 353h8v1h-8zM258 353h60v1h-60zM319 353h10v1h-10zM331 353h21v1h-21zM355 353h11v1h-11zM371 353h11v1h-11zM387 353h12v1h-12zM401 353h12v1h-12zM167 354h4v1h-4zM185 354h4v1h-4zM197 354h5v1h-5zM218 354h8v1h-8zM234 354h8v1h-8zM249 354h60v1h-60zM310 354h9v1h-9zM321 354h20v1h-20zM344 354h11v1h-11zM360 354h11v1h-11zM376 354h11v1h-11zM389 354h12v1h-12zM162 355h5v1h-5zM180 355h5v1h-5zM192 355h5v1h-5zM211 355h7v1h-7zM225 355h9v1h-9zM240 355h9v1h-9zM250 355h60v1h-60zM311 355h20v1h-20zM333 355h11v1h-11zM348 355h12v1h-12zM364 355h12v1h-12zM377 355h12v1h-12zM158 356h4v1h-4zM176 356h4v1h-4zM187 356h5v1h-5zM203 356h8v1h-8zM217 356h8v1h-8zM231 356h9v1h-9zM242 356h58v1h-58zM301 356h20v1h-20zM323 356h10v1h-10zM337 356h11v1h-11zM352 356h12v1h-12zM365 356h12v1h-12zM154 357h4v1h-4zM172 357h4v1h-4zM182 357h5v1h-5zM196 357h7v1h-7zM209 357h8v1h-8zM223 357h8v1h-8zM235 357h55v1h-55zM291 357h19v1h-19zM312 357h11v1h-11zM326 357h11v1h-11zM341 357h11v1h-11zM353 357h12v1h-12zM149 358h5v1h-5zM167 358h5v1h-5zM177 358h5v1h-5zM188 358h8v1h-8zM201 358h8v1h-8zM214 358h9v1h-9zM227 358h73v1h-73zM301 358h11v1h-11zM314 358h12v1h-12zM329 358h24v1h-24zM145 359h4v1h-4zM163 359h4v1h-4zM172 359h5v1h-5zM180 359h8v1h-8zM193 359h8v1h-8zM205 359h9v1h-9zM219 359h71v1h-71zM291 359h10v1h-10zM303 359h11v1h-11zM317 359h23v1h-23zM140 360h5v1h-5zM158 360h5v1h-5zM167 360h5v1h-5zM173 360h7v1h-7zM184 360h9v1h-9zM196 360h9v1h-9zM212 360h67v1h-67zM280 360h11v1h-11zM292 360h11v1h-11zM305 360h23v1h-23zM136 361h4v1h-4zM154 361h4v1h-4zM162 361h11v1h-11zM176 361h8v1h-8zM187 361h9v1h-9zM204 361h88v1h-88zM294 361h22v1h-22zM132 362h4v1h-4zM150 362h4v1h-4zM157 362h8v1h-8zM168 362h8v1h-8zM179 362h8v1h-8zM197 362h83v1h-83zM282 362h22v1h-22zM127 363h5v1h-5zM145 363h13v1h-13zM160 363h8v1h-8zM170 363h9v1h-9zM189 363h80v1h-80zM270 363h22v1h-22zM123 364h4v1h-4zM141 364h19v1h-19zM161 364h9v1h-9zM181 364h99v1h-99zM120 365h3v1h-3zM138 365h4v1h-4zM144 365h8v1h-8zM156 365h5v1h-5zM177 365h14v1h-14zM192 365h5v1h-5zM198 365h8v1h-8zM207 365h5v1h-5zM216 365h5v1h-5zM222 365h6v1h-6zM231 365h6v1h-6zM240 365h6v1h-6zM252 365h6v1h-6zM261 365h7v1h-7z"/>
<path id="target" fill="#000" d="M538 80h2v1h-2zM537 81h2v1h-2zM537 82h2v1h-2zM536 83h2v1h-2zM536 84h2v1h-2zM535 85h2v1h-2zM534 86h2v1h-2zM534 87h2v1h-2zM533 88h2v1h-2zM533 89h2v1h-2zM532 90h2v1h-2zM531 91h2v1h-2zM531 92h2v1h-2zM530 93h2v1h-2zM530 94h2v1h-2zM529 95h2v1h-2zM528 96h2v1h-2zM528 97h2v1h-2zM527 98h2v1h-2zM527 99h2v1h-2zM526 100h2v1h-2zM525 101h2v1h-2zM525 102h2v1h-2zM524 103h2v1h-2zM524 104h2v1h-2zM523 105h2v1h-2zM522 106h2v1h-2zM522 107h2v1h-2zM521 108h2v1h-2zM521 109h2v1h-2zM520 110h2v1h-2zM520 111h2v1h-2zM519 112h2v1h-2zM519 113h2v1h-2zM518 114h2v1h-2zM518 115h2v1h-2zM517 116h2v1h-2zM517 117h2v1h-2zM516 118h2v1h-2zM516 119h2v1h-2zM515 120h2v1h-2zM515 121h2v1h-2zM514 122h2v1h-2zM514 123h2v1h-2zM513 124h2v1h-2zM513 125h2v1h-2zM512 126h2v1h-2zM512 127h2v1h-2zM511 128h2v1h-2zM511 129h2v1h-2zM510 130h2v1h-2zM510 131h2v1h-2zM509 132h2v1h-2zM509 133h2v1h-2zM508 134h2v1h-2zM508 135h2v1h-2zM507 136h2v1h-2zM507 137h2v1h-2zM506 138h2v1h-2zM506 139h2v1h-2zM505 140h2v1h-2zM505 141h2v1h-2zM505 142h2v1h-2zM505 143h2v1h-2zM505 144h2v1h-2zM505 145h2v1h-2zM505 146h2v1h-2zM505 147h2v1h-2zM505 148h2v1h-2zM505 149h2v1h-2zM505 150h2v1h-2zM505 151h2v1h-2zM505 152h2v1h-2zM505 153h2v1h-2zM505 154h2v1h-2zM505 155h2v1h-2zM504 156h2v1h-2zM504 157h2v1h-2zM503 158h2v1h-2zM503 159h2v1h-2zM502 160h2v1h-2zM501 161h2v1h-2zM501 162h2v1h-2zM500 163h2v1h-2zM500 164h2v1h-2zM499 165h2v1h-2zM498 166h2v1h-2zM498 167h2v1h-2zM497 168h2v1h-2zM497 169h2v1h-2zM496 170h2v1h-2zM496 171h2v1h-2zM496 172h2v1h-2zM496 173h2v1h-2zM496 174h2v1h-2zM496 175h2v1h-2zM496 176h2v1h-2zM496 177h2v1h-2zM496 178h2v1h-2zM496 179h2v1h-2zM496 180h2v1h-2zM496 181h2v1h-2zM496 182h2v1h-2zM496 183h2v1h-2zM496 184h2v1h-2zM496 185h2v1h-2zM496 186h2v1h-2zM495 187h2v1h-2zM495 188h2v1h-2zM494 189h2v1h-2zM494 190h2v1h-2zM494 191h2v1h-2zM493 192h2v1h-2zM493 193h2v1h-2zM492 194h2v1h-2zM492 195h2v1h-2zM492 196h2v1h-2zM491 197h2v1h-2zM491 198h2v1h-2zM490 199h2v1h-2zM490 200h2v1h-2zM489 201h2v1h-2zM488 202h2v1h-2zM488 203h2v1h-2zM487 204h2v1h-2zM486 205h2v1h-2zM485 206h2v1h-2zM484 207h2v1h-2zM484 208h2v1h-2zM483 209h2v1h-2zM482 210h2v1h-2zM481 211h2v1h-2zM480 212h2v1h-2zM480 213h2v1h-2zM479 214h2v1h-2zM478 215h2v1h-2zM478 216h2v1h-2zM477 217h2v1h-2zM477 218h2v1h-2zM476 219h2v1h-2zM476 220h2v1h-2zM475 221h2v1h-2zM475 222h2v1h-2zM474 223h2v1h-2zM474 224h2v1h-2zM473 225h2v1h-2zM473 226h2v1h-2zM472 227h2v1h-2zM472 228h2v1h-2zM471 229h2v1h-2zM471 230h2v1h-2zM471 231h2v1h-2zM470 232h2v1h-2zM470 233h2v1h-2zM470 234h2v1h-2zM469 235h2v1h-2zM469 236h2v1h-2zM469 237h2v1h-2zM468 238h2v1h-2zM468 239h2v1h-2zM468 240h2v1h-2zM467 241h2v1h-2zM467 242h2v1h-2zM467 243h2v1h-2zM466 244h2v1h-2zM466 245h2v1h-2zM465 246h2v1h-2zM464 247h2v1h-2zM464 248h2v1h-2zM463 249h2v1h-2zM462 250h2v1h-2zM461 251h2v1h-2zM460 252h2v1h-2zM460 253h2v1h-2zM459 254h2v1h-2zM458 255h2v1h-2zM457 256h2v1h-2zM456 257h2v1h-2zM456 258h2v1h-2zM455 259h2v1h-2zM454 260h2v1h-2zM453 261h2v1h-2zM452 262h2v1h-2zM451 263h2v1h-2zM450 264h2v1h-2zM449 265h2v1h-2zM448 266h2v1h-2zM446 267h3v1h-3zM445 268h3v1h-3zM444 269h2v1h-2zM443 270h2v1h-2zM442 271h2v1h-2zM441 272h2v1h-2zM440 273h2v1h-2zM439 274h2v1h-2zM438 275h2v1h-2zM437 276h2v1h-2zM437 277h2v1h-2zM436 278h2v1h-2zM436 279h2v1h-2zM435 280h2v1h-2zM435 281h2v1h-2zM434 282h2v1h-2zM434 283h2v1h-2zM433 284h2v1h-2zM433 285h2v1h-2zM432 286h2v1h-2zM432 287h2v1h-2zM431 288h2v1h-2zM431 289h2v1h-2zM430 290h2v1h-2zM429 291h2v1h-2zM429 292h2v1h-2zM428 293h2v1h-2zM427 294h2v1h-2zM427 295h2v1h-2zM426 296h2v1h-2zM425 297h2v1h-2zM425 298h2v1h-2zM424 299h2v1h-2zM423 300h2v1h-2zM423 301h2v1h-2zM422 302h2v1h-2zM421 303h2v1h-2zM421 304h2v1h-2zM420 305h2v1h-2zM419 306h2v1h-2zM419 307h2v1h-2zM418 308h2v1h-2zM418 309h2v1h-2zM417 310h2v1h-2zM417 311h2v1h-2zM416 312h2v1h-2zM416 313h2v1h-2zM415 314h2v1h-2zM415 315h2v1h-2zM414 316h2v1h-2zM414 317h2v1h-2zM413 318h2v1h-2zM412 319h3v1h-3zM409 320h5v1h-5zM406 321h6v1h-6zM403 322h6v1h-6zM401 323h5v1h-5zM398 324h5v1h-5zM395 325h6v1h-6zM392 326h6v1h-6zM389 327h6v1h-6zM386 328h6v1h-6zM383 329h6v1h-6zM381 330h5v1h-5zM378 331h5v1h-5zM375 332h6v1h-6zM372 333h6v1h-6zM368 334h7v1h-7zM362 335h10v1h-10zM356 336h12v1h-12zM350 337h12v1h-12zM344 338h12v1h-12zM338 339h12v1h-12zM332 340h12v1h-12zM326 341h12v1h-12zM320 342h12v1h-12zM314 343h12v1h-12zM308 344h12v1h-12zM302 345h12v1h-12zM296 346h12v1h-12zM290 347h12v1h-12zM284 348h12v1h-12zM277 349h13v1h-13zM271 350h13v1h-13zM264 351h13v1h-13zM258 352h13v1h-13zM251 353h13v1h-13zM245 354h13v1h-13zM238 355h13v1h-13zM232 356h13v1h-13zM225 357h13v1h-13zM218 358h14v1h-14zM212 359h13v1h-13zM205 360h13v1h-13zM199 361h13v1h-13zM192 362h13v1h-13zM186 363h13v1h-13zM182 364h10v1h-10zM182 365h4v1h-4z"/>
<rect x="65.5" y="65.5" width="550" height="310" fill="none" stroke="#000" stroke-width="1"/>
<path d="M128.5 375.5v-5M128.5 65.5v5M181.5 375.5v-10M181.5 65.5v10M234.5 375.5v-5M234.5 65.5v5M287.5 375.5v-10M287.5 65.5v10M340.5 375.5v-5M340.5 65.5v5M393.5 375.5v-10M393.5 65.5v10M446.5 375.5v-5M446.5 65.5v5M499.5 375.5v-10M499.5 65.5v10M552.5 375.5v-5M552.5 65.5v5M605.5 375.5v-10M605.5 65.5v10M65.5 336.5h5M615.5 336.5h-5M65.5 307.5h5M615.5 307.5h-5M65.5 278.5h5M615.5 278.5h-5M65.5 249.5h5M615.5 249.5h-5M65.5 220.5h10M615.5 220.5h-10M65.5 191.5h5M615.5 191.5h-5M65.5 162.5h5M615.5 162.5h-5M65.5 133.5h5M615.5 133.5h-5M65.5 104.5h5M615.5 104.5h-5M65.5 75.5h10M615.5 75.5h-10" stroke="#000" stroke-width="1" fill="none"/>
</g>
<text transform="translate(333.4 30.0) scale(1.12 1)" text-anchor="middle" class="d" lengthAdjust="spacing" textLength="41.19">R0962</text>
<text x="219.3" y="419.6" text-anchor="start" textLength="229.4" lengthAdjust="spacingAndGlyphs">Percent of Residues (CA)</text>
<text transform="translate(64.3 394.7) scale(1.12 1)" text-anchor="middle" class="d">0</text>
<text transform="translate(180.4 394.7) scale(1.12 1)" text-anchor="middle" class="d" lengthAdjust="spacing" textLength="15.47">20</text>
<text transform="translate(286.5 394.7) scale(1.12 1)" text-anchor="middle" class="d" lengthAdjust="spacing" textLength="15.47">40</text>
<text transform="translate(392.5 394.7) scale(1.12 1)" text-anchor="middle" class="d" lengthAdjust="spacing" textLength="15.47">60</text>
<text transform="translate(497.9 394.7) scale(1.12 1)" text-anchor="middle" class="d" lengthAdjust="spacing" textLength="15.47">80</text>
<text transform="translate(609.2 394.7) scale(1.12 1)" text-anchor="middle" class="d" lengthAdjust="spacing" textLength="24.04">100</text>
<text transform="translate(55.2 375.7) rotate(-90) scale(1.12 1)" text-anchor="middle" class="d">0</text>
<text transform="translate(55.2 220.6) rotate(-90) scale(1.12 1)" text-anchor="middle" class="d">5</text>
<text transform="translate(55.2 66.0) rotate(-90) scale(1.12 1)" text-anchor="middle" class="d" lengthAdjust="spacing" textLength="15.56">10</text>
<text x="30.5" y="320.0" text-anchor="start" textLength="175.1" lengthAdjust="spacingAndGlyphs" transform="rotate(-90 30.5 320.0)">Distance Cutoff, A</text>
</svg>
</body></html>
